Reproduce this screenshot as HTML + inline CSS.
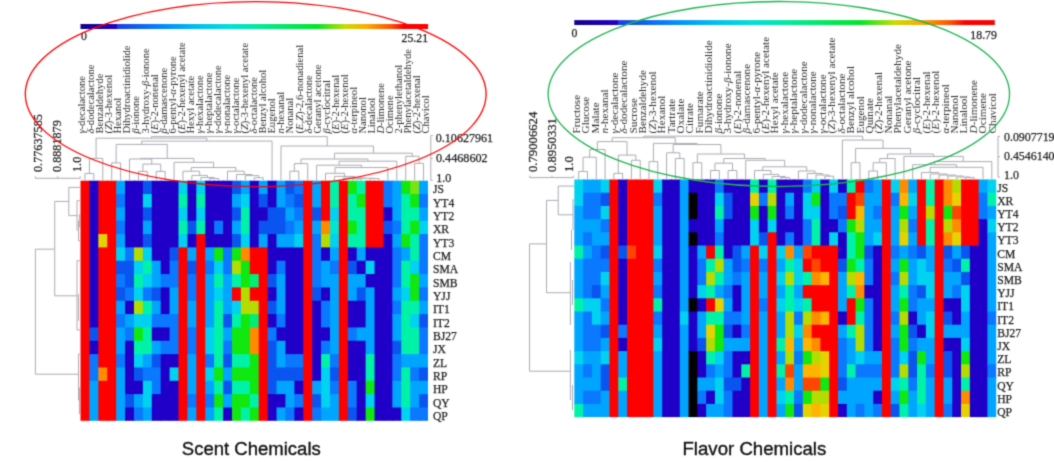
<!DOCTYPE html>
<html><head><meta charset="utf-8"><title>Scent and Flavor Chemicals heatmaps</title>
<style>html,body{margin:0;padding:0;background:#fff;width:1054px;height:462px;overflow:hidden}
svg{display:block;font-family:"Liberation Serif",serif}
#w{width:1054px;height:462px}</style></head>
<body><div id="w">
<svg width="1054" height="462" viewBox="0 0 1054 462">
<defs><filter id="bl" x="0" y="0" width="1" height="1" filterUnits="objectBoundingBox" color-interpolation-filters="sRGB"><feConvolveMatrix order="3" kernelMatrix="0.02768 0.11101 0.02768 0.11101 0.44521 0.11101 0.02768 0.11101 0.02768" preserveAlpha="true" edgeMode="duplicate"/></filter></defs>
<g filter="url(#bl)">
<rect width="1054" height="462" fill="#ffffff"/>
<defs><linearGradient id="cb" x1="0" x2="1" y1="0" y2="0"><stop offset="0" stop-color="#14008c"/><stop offset="0.104" stop-color="#2200c8"/><stop offset="0.1045" stop-color="#1e3ce6"/><stop offset="0.237" stop-color="#008cff"/><stop offset="0.332" stop-color="#00bef0"/><stop offset="0.429" stop-color="#00e1d7"/><stop offset="0.502" stop-color="#00eba0"/><stop offset="0.68" stop-color="#00e628"/><stop offset="0.761" stop-color="#c8dc00"/><stop offset="0.824" stop-color="#ffaa00"/><stop offset="0.895" stop-color="#ff5000"/><stop offset="0.929" stop-color="#ff0000"/><stop offset="1" stop-color="#ff0000"/></linearGradient></defs>
<rect x="80.5" y="24" width="347.6" height="5" fill="url(#cb)"/>
<rect x="574.3" y="20.1" width="420.5" height="4.9" fill="url(#cb)"/>
<g font-family="Liberation Serif, serif" fill="#222222" stroke="#222222" stroke-width="0.25">
<text x="81" y="40.4" font-size="11.8">0</text>
<text x="428.1" y="41.6" font-size="11.8" text-anchor="end">25.21</text>
<text x="571.5" y="36.6" font-size="11.8">0</text>
<text x="996.9" y="38.7" font-size="11.8" text-anchor="end">18.79</text>
<text transform="translate(85.1 133.6) rotate(-90) scale(1 0.93)" font-size="10.6" stroke="none" fill="#2e2e2e"><tspan font-style="italic">γ</tspan>-decalactone</text>
<text transform="translate(94.16 133.6) rotate(-90) scale(1 0.93)" font-size="10.6" stroke="none" fill="#2e2e2e"><tspan font-style="italic">δ</tspan>-dodecalactone</text>
<text transform="translate(103.22 133.6) rotate(-90) scale(1 0.93)" font-size="10.6" stroke="none" fill="#2e2e2e">Benzaldehyde</text>
<text transform="translate(112.28 133.6) rotate(-90) scale(1 0.93)" font-size="10.6" stroke="none" fill="#2e2e2e">(<tspan font-style="italic">Z</tspan>)-3-hexenol</text>
<text transform="translate(121.34 133.6) rotate(-90) scale(1 0.93)" font-size="10.6" stroke="none" fill="#2e2e2e">Hexanol</text>
<text transform="translate(130.4 133.6) rotate(-90) scale(1 0.93)" font-size="10.6" stroke="none" fill="#2e2e2e">Dihydroactinidiolide</text>
<text transform="translate(139.46 133.6) rotate(-90) scale(1 0.93)" font-size="10.6" stroke="none" fill="#2e2e2e"><tspan font-style="italic">β</tspan>-ionone</text>
<text transform="translate(148.52 133.6) rotate(-90) scale(1 0.93)" font-size="10.6" stroke="none" fill="#2e2e2e">3-hydroxy-<tspan font-style="italic">β</tspan>-ionone</text>
<text transform="translate(157.58 133.6) rotate(-90) scale(1 0.93)" font-size="10.6" stroke="none" fill="#2e2e2e">(<tspan font-style="italic">E</tspan>)-2-nonenal</text>
<text transform="translate(166.64 133.6) rotate(-90) scale(1 0.93)" font-size="10.6" stroke="none" fill="#2e2e2e"><tspan font-style="italic">β</tspan>-damascenone</text>
<text transform="translate(175.7 133.6) rotate(-90) scale(1 0.93)" font-size="10.6" stroke="none" fill="#2e2e2e">6-pentyl-<tspan font-style="italic">α</tspan>-pyrone</text>
<text transform="translate(184.76 133.6) rotate(-90) scale(1 0.93)" font-size="10.6" stroke="none" fill="#2e2e2e">(<tspan font-style="italic">E</tspan>)-2-hexenyl acetate</text>
<text transform="translate(193.82 133.6) rotate(-90) scale(1 0.93)" font-size="10.6" stroke="none" fill="#2e2e2e">Hexyl acetate</text>
<text transform="translate(202.88 133.6) rotate(-90) scale(1 0.93)" font-size="10.6" stroke="none" fill="#2e2e2e"><tspan font-style="italic">γ</tspan>-hexalactone</text>
<text transform="translate(211.94 133.6) rotate(-90) scale(1 0.93)" font-size="10.6" stroke="none" fill="#2e2e2e"><tspan font-style="italic">γ</tspan>-heptalactone</text>
<text transform="translate(221 133.6) rotate(-90) scale(1 0.93)" font-size="10.6" stroke="none" fill="#2e2e2e"><tspan font-style="italic">γ</tspan>-dodecalactone</text>
<text transform="translate(230.06 133.6) rotate(-90) scale(1 0.93)" font-size="10.6" stroke="none" fill="#2e2e2e"><tspan font-style="italic">γ</tspan>-nonalactone</text>
<text transform="translate(239.12 133.6) rotate(-90) scale(1 0.93)" font-size="10.6" stroke="none" fill="#2e2e2e"><tspan font-style="italic">γ</tspan>-octalactone</text>
<text transform="translate(248.18 133.6) rotate(-90) scale(1 0.93)" font-size="10.6" stroke="none" fill="#2e2e2e">(<tspan font-style="italic">Z</tspan>)-3-hexenyl acetate</text>
<text transform="translate(257.24 133.6) rotate(-90) scale(1 0.93)" font-size="10.6" stroke="none" fill="#2e2e2e"><tspan font-style="italic">δ</tspan>-octalactone</text>
<text transform="translate(266.3 133.6) rotate(-90) scale(1 0.93)" font-size="10.6" stroke="none" fill="#2e2e2e">Benzyl alcohol</text>
<text transform="translate(275.36 133.6) rotate(-90) scale(1 0.93)" font-size="10.6" stroke="none" fill="#2e2e2e">Eugenol</text>
<text transform="translate(284.42 133.6) rotate(-90) scale(1 0.93)" font-size="10.6" stroke="none" fill="#2e2e2e"><tspan font-style="italic">n</tspan>-hexanal</text>
<text transform="translate(293.48 133.6) rotate(-90) scale(1 0.93)" font-size="10.6" stroke="none" fill="#2e2e2e">Nonanal</text>
<text transform="translate(302.54 133.6) rotate(-90) scale(1 0.93)" font-size="10.6" stroke="none" fill="#2e2e2e">(<tspan font-style="italic">E,Z</tspan>)-2,6-nonadienal</text>
<text transform="translate(311.6 133.6) rotate(-90) scale(1 0.93)" font-size="10.6" stroke="none" fill="#2e2e2e"><tspan font-style="italic">δ</tspan>-decalactone</text>
<text transform="translate(320.66 133.6) rotate(-90) scale(1 0.93)" font-size="10.6" stroke="none" fill="#2e2e2e">Geranyl acetone</text>
<text transform="translate(329.72 133.6) rotate(-90) scale(1 0.93)" font-size="10.6" stroke="none" fill="#2e2e2e"><tspan font-style="italic">β</tspan>-cyclocitral</text>
<text transform="translate(338.78 133.6) rotate(-90) scale(1 0.93)" font-size="10.6" stroke="none" fill="#2e2e2e">(<tspan font-style="italic">E</tspan>)-2-hexenal</text>
<text transform="translate(347.84 133.6) rotate(-90) scale(1 0.93)" font-size="10.6" stroke="none" fill="#2e2e2e">(<tspan font-style="italic">E</tspan>)-2-hexenol</text>
<text transform="translate(356.9 133.6) rotate(-90) scale(1 0.93)" font-size="10.6" stroke="none" fill="#2e2e2e"><tspan font-style="italic">α</tspan>-terpineol</text>
<text transform="translate(365.96 133.6) rotate(-90) scale(1 0.93)" font-size="10.6" stroke="none" fill="#2e2e2e">Nanonol</text>
<text transform="translate(375.02 133.6) rotate(-90) scale(1 0.93)" font-size="10.6" stroke="none" fill="#2e2e2e">Linalool</text>
<text transform="translate(384.08 133.6) rotate(-90) scale(1 0.93)" font-size="10.6" stroke="none" fill="#2e2e2e"><tspan font-style="italic">D</tspan>-limonene</text>
<text transform="translate(393.14 133.6) rotate(-90) scale(1 0.93)" font-size="10.6" stroke="none" fill="#2e2e2e">Ocimene</text>
<text transform="translate(402.2 133.6) rotate(-90) scale(1 0.93)" font-size="10.6" stroke="none" fill="#2e2e2e">2-phenylethanol</text>
<text transform="translate(411.26 133.6) rotate(-90) scale(1 0.93)" font-size="10.6" stroke="none" fill="#2e2e2e">Phenylacetaldehyde</text>
<text transform="translate(420.32 133.6) rotate(-90) scale(1 0.93)" font-size="10.6" stroke="none" fill="#2e2e2e">(<tspan font-style="italic">Z</tspan>)-2-hexenal</text>
<text transform="translate(429.38 133.6) rotate(-90) scale(1 0.93)" font-size="10.6" stroke="none" fill="#2e2e2e">Chavicol</text>
<text transform="translate(580 133.4) rotate(-90) scale(1 0.97)" font-size="11.2" stroke="none" fill="#2e2e2e">Fructose</text>
<text transform="translate(589.45 133.4) rotate(-90) scale(1 0.97)" font-size="11.2" stroke="none" fill="#2e2e2e">Glucose</text>
<text transform="translate(598.9 133.4) rotate(-90) scale(1 0.97)" font-size="11.2" stroke="none" fill="#2e2e2e">Malate</text>
<text transform="translate(608.35 133.4) rotate(-90) scale(1 0.97)" font-size="11.2" stroke="none" fill="#2e2e2e"><tspan font-style="italic">n</tspan>-hexanal</text>
<text transform="translate(617.8 133.4) rotate(-90) scale(1 0.97)" font-size="11.2" stroke="none" fill="#2e2e2e"><tspan font-style="italic">γ</tspan>-decalactone</text>
<text transform="translate(627.25 133.4) rotate(-90) scale(1 0.97)" font-size="11.2" stroke="none" fill="#2e2e2e"><tspan font-style="italic">δ</tspan>-dodecalactone</text>
<text transform="translate(636.7 133.4) rotate(-90) scale(1 0.97)" font-size="11.2" stroke="none" fill="#2e2e2e">Sucrose</text>
<text transform="translate(646.15 133.4) rotate(-90) scale(1 0.97)" font-size="11.2" stroke="none" fill="#2e2e2e">Benzaldehyde</text>
<text transform="translate(655.6 133.4) rotate(-90) scale(1 0.97)" font-size="11.2" stroke="none" fill="#2e2e2e">(<tspan font-style="italic">Z</tspan>)-3-hexenol</text>
<text transform="translate(665.05 133.4) rotate(-90) scale(1 0.97)" font-size="11.2" stroke="none" fill="#2e2e2e">Hexanol</text>
<text transform="translate(674.5 133.4) rotate(-90) scale(1 0.97)" font-size="11.2" stroke="none" fill="#2e2e2e">Tartrate</text>
<text transform="translate(683.95 133.4) rotate(-90) scale(1 0.97)" font-size="11.2" stroke="none" fill="#2e2e2e">Oxalate</text>
<text transform="translate(693.4 133.4) rotate(-90) scale(1 0.97)" font-size="11.2" stroke="none" fill="#2e2e2e">Citrate</text>
<text transform="translate(702.85 133.4) rotate(-90) scale(1 0.97)" font-size="11.2" stroke="none" fill="#2e2e2e">Fumarate</text>
<text transform="translate(712.3 133.4) rotate(-90) scale(1 0.97)" font-size="11.2" stroke="none" fill="#2e2e2e">Dihydroactinidiolide</text>
<text transform="translate(721.75 133.4) rotate(-90) scale(1 0.97)" font-size="11.2" stroke="none" fill="#2e2e2e"><tspan font-style="italic">β</tspan>-ionone</text>
<text transform="translate(731.2 133.4) rotate(-90) scale(1 0.97)" font-size="11.2" stroke="none" fill="#2e2e2e">3-hydroxy-<tspan font-style="italic">β</tspan>-ionone</text>
<text transform="translate(740.65 133.4) rotate(-90) scale(1 0.97)" font-size="11.2" stroke="none" fill="#2e2e2e">(<tspan font-style="italic">E</tspan>)-2-nonenal</text>
<text transform="translate(750.1 133.4) rotate(-90) scale(1 0.97)" font-size="11.2" stroke="none" fill="#2e2e2e"><tspan font-style="italic">β</tspan>-damascenone</text>
<text transform="translate(759.55 133.4) rotate(-90) scale(1 0.97)" font-size="11.2" stroke="none" fill="#2e2e2e">6-pentyl-<tspan font-style="italic">α</tspan>-pyrone</text>
<text transform="translate(769 133.4) rotate(-90) scale(1 0.97)" font-size="11.2" stroke="none" fill="#2e2e2e">(<tspan font-style="italic">E</tspan>)-2-hexenyl acetate</text>
<text transform="translate(778.45 133.4) rotate(-90) scale(1 0.97)" font-size="11.2" stroke="none" fill="#2e2e2e">Hexyl acetate</text>
<text transform="translate(787.9 133.4) rotate(-90) scale(1 0.97)" font-size="11.2" stroke="none" fill="#2e2e2e"><tspan font-style="italic">γ</tspan>-hexalactone</text>
<text transform="translate(797.35 133.4) rotate(-90) scale(1 0.97)" font-size="11.2" stroke="none" fill="#2e2e2e"><tspan font-style="italic">γ</tspan>-heptalactone</text>
<text transform="translate(806.8 133.4) rotate(-90) scale(1 0.97)" font-size="11.2" stroke="none" fill="#2e2e2e"><tspan font-style="italic">γ</tspan>-dodecalactone</text>
<text transform="translate(816.25 133.4) rotate(-90) scale(1 0.97)" font-size="11.2" stroke="none" fill="#2e2e2e"><tspan font-style="italic">γ</tspan>-nonalactone</text>
<text transform="translate(825.7 133.4) rotate(-90) scale(1 0.97)" font-size="11.2" stroke="none" fill="#2e2e2e"><tspan font-style="italic">γ</tspan>-octalactone</text>
<text transform="translate(835.15 133.4) rotate(-90) scale(1 0.97)" font-size="11.2" stroke="none" fill="#2e2e2e">(<tspan font-style="italic">Z</tspan>)-3-hexenyl acetate</text>
<text transform="translate(844.6 133.4) rotate(-90) scale(1 0.97)" font-size="11.2" stroke="none" fill="#2e2e2e"><tspan font-style="italic">δ</tspan>-octalactone</text>
<text transform="translate(854.05 133.4) rotate(-90) scale(1 0.97)" font-size="11.2" stroke="none" fill="#2e2e2e">Benzyl alcohol</text>
<text transform="translate(863.5 133.4) rotate(-90) scale(1 0.97)" font-size="11.2" stroke="none" fill="#2e2e2e">Eugenol</text>
<text transform="translate(872.95 133.4) rotate(-90) scale(1 0.97)" font-size="11.2" stroke="none" fill="#2e2e2e">Quinate</text>
<text transform="translate(882.4 133.4) rotate(-90) scale(1 0.97)" font-size="11.2" stroke="none" fill="#2e2e2e">(<tspan font-style="italic">Z</tspan>)-2-hexenal</text>
<text transform="translate(891.85 133.4) rotate(-90) scale(1 0.97)" font-size="11.2" stroke="none" fill="#2e2e2e">Nonanal</text>
<text transform="translate(901.3 133.4) rotate(-90) scale(1 0.97)" font-size="11.2" stroke="none" fill="#2e2e2e">Phenylacetaldehyde</text>
<text transform="translate(910.75 133.4) rotate(-90) scale(1 0.97)" font-size="11.2" stroke="none" fill="#2e2e2e">Geranyl acetone</text>
<text transform="translate(920.2 133.4) rotate(-90) scale(1 0.97)" font-size="11.2" stroke="none" fill="#2e2e2e"><tspan font-style="italic">β</tspan>-cyclocitral</text>
<text transform="translate(929.65 133.4) rotate(-90) scale(1 0.97)" font-size="11.2" stroke="none" fill="#2e2e2e">(<tspan font-style="italic">E</tspan>)-2-hexenal</text>
<text transform="translate(939.1 133.4) rotate(-90) scale(1 0.97)" font-size="11.2" stroke="none" fill="#2e2e2e">(<tspan font-style="italic">E</tspan>)-2-hexenol</text>
<text transform="translate(948.55 133.4) rotate(-90) scale(1 0.97)" font-size="11.2" stroke="none" fill="#2e2e2e"><tspan font-style="italic">α</tspan>-terpineol</text>
<text transform="translate(958 133.4) rotate(-90) scale(1 0.97)" font-size="11.2" stroke="none" fill="#2e2e2e">Nanonol</text>
<text transform="translate(967.45 133.4) rotate(-90) scale(1 0.97)" font-size="11.2" stroke="none" fill="#2e2e2e">Linalool</text>
<text transform="translate(976.9 133.4) rotate(-90) scale(1 0.97)" font-size="11.2" stroke="none" fill="#2e2e2e"><tspan font-style="italic">D</tspan>-limonene</text>
<text transform="translate(986.35 133.4) rotate(-90) scale(1 0.97)" font-size="11.2" stroke="none" fill="#2e2e2e">Ocimene</text>
<text transform="translate(995.8 133.4) rotate(-90) scale(1 0.97)" font-size="11.2" stroke="none" fill="#2e2e2e">Chavicol</text>
<text x="433" y="193.17" font-size="11.6">JS</text>
<text x="433" y="206.51" font-size="11.6">YT4</text>
<text x="433" y="219.85" font-size="11.6">YT2</text>
<text x="433" y="233.19" font-size="11.6">XR</text>
<text x="433" y="246.53" font-size="11.6">YT3</text>
<text x="433" y="259.86" font-size="11.6">CM</text>
<text x="433" y="273.2" font-size="11.6">SMA</text>
<text x="433" y="286.54" font-size="11.6">SMB</text>
<text x="433" y="299.88" font-size="11.6">YJJ</text>
<text x="433" y="313.22" font-size="11.6">IT1</text>
<text x="433" y="326.56" font-size="11.6">IT2</text>
<text x="433" y="339.9" font-size="11.6">BJ27</text>
<text x="433" y="353.24" font-size="11.6">JX</text>
<text x="433" y="366.57" font-size="11.6">ZL</text>
<text x="433" y="379.91" font-size="11.6">RP</text>
<text x="433" y="393.25" font-size="11.6">HP</text>
<text x="433" y="406.59" font-size="11.6">QY</text>
<text x="433" y="419.93" font-size="11.6">QP</text>
<text x="997.2" y="191.5" font-size="11.6">JS</text>
<text x="997.2" y="204.7" font-size="11.6">XR</text>
<text x="997.2" y="217.9" font-size="11.6">YT4</text>
<text x="997.2" y="231.1" font-size="11.6">YT2</text>
<text x="997.2" y="244.3" font-size="11.6">YT3</text>
<text x="997.2" y="257.5" font-size="11.6">CM</text>
<text x="997.2" y="270.7" font-size="11.6">SMA</text>
<text x="997.2" y="283.9" font-size="11.6">SMB</text>
<text x="997.2" y="297.1" font-size="11.6">YJJ</text>
<text x="997.2" y="310.3" font-size="11.6">IT1</text>
<text x="997.2" y="323.5" font-size="11.6">IT2</text>
<text x="997.2" y="336.7" font-size="11.6">BJ27</text>
<text x="997.2" y="349.9" font-size="11.6">JX</text>
<text x="997.2" y="363.1" font-size="11.6">ZL</text>
<text x="997.2" y="376.3" font-size="11.6">RP</text>
<text x="997.2" y="389.5" font-size="11.6">QY</text>
<text x="997.2" y="402.7" font-size="11.6">HP</text>
<text x="997.2" y="415.9" font-size="11.6">QP</text>
<text x="435.8" y="141.6" font-size="12.05">0.10627961</text>
<text x="435.9" y="161.5" font-size="12.2">0.4468602</text>
<text x="436.2" y="181.6" font-size="12.1">1.0</text>
<text x="1004" y="141.1" font-size="11.9">0.0907719</text>
<text x="1004" y="159.8" font-size="11.9">0.4546140</text>
<text x="1004" y="178.5" font-size="11.9">1.0</text>
<text transform="translate(41.6 172) rotate(-90)" font-size="12.2">0.77637585</text>
<text transform="translate(61.2 172) rotate(-90)" font-size="12.2">0.8881879</text>
<text transform="translate(81 172) rotate(-90)" font-size="12.2">1.0</text>
<text transform="translate(537 172) rotate(-90)" font-size="12.7">0.79006624</text>
<text transform="translate(556.2 172) rotate(-90)" font-size="12.7">0.8950331</text>
<text transform="translate(573.4 172) rotate(-90)" font-size="12.7">1.0</text>
</g>
<rect x="80.5" y="180.7" width="9.91" height="240.1" fill="#ff0000"/>
<rect x="89.41" y="180.7" width="9.91" height="147.73" fill="#2000c8"/>
<rect x="89.41" y="327.43" width="9.91" height="14.34" fill="#0a55f0"/>
<rect x="89.41" y="340.77" width="9.91" height="14.34" fill="#2000c8"/>
<rect x="89.41" y="354.11" width="9.91" height="27.68" fill="#0a78ff"/>
<rect x="89.41" y="380.78" width="9.91" height="40.02" fill="#00a5ff"/>
<rect x="98.32" y="180.7" width="9.91" height="54.36" fill="#ff0000"/>
<rect x="98.32" y="234.06" width="9.91" height="14.34" fill="#e6d200"/>
<rect x="98.32" y="247.39" width="9.91" height="121.05" fill="#ff0000"/>
<rect x="98.32" y="367.44" width="9.91" height="14.34" fill="#ff8c00"/>
<rect x="98.32" y="380.78" width="9.91" height="40.02" fill="#ff0000"/>
<rect x="107.23" y="180.7" width="9.91" height="240.1" fill="#ff0000"/>
<rect x="116.14" y="180.7" width="9.91" height="14.34" fill="#00a5ff"/>
<rect x="116.14" y="194.04" width="9.91" height="14.34" fill="#0a78ff"/>
<rect x="116.14" y="207.38" width="9.91" height="14.34" fill="#00a5ff"/>
<rect x="116.14" y="220.72" width="9.91" height="14.34" fill="#0a78ff"/>
<rect x="116.14" y="234.06" width="9.91" height="14.34" fill="#00a5ff"/>
<rect x="116.14" y="247.39" width="9.91" height="14.34" fill="#00d2f0"/>
<rect x="116.14" y="260.73" width="9.91" height="14.34" fill="#0a55f0"/>
<rect x="116.14" y="274.07" width="9.91" height="14.34" fill="#0a78ff"/>
<rect x="116.14" y="287.41" width="9.91" height="14.34" fill="#0a55f0"/>
<rect x="116.14" y="300.75" width="9.91" height="14.34" fill="#00a5ff"/>
<rect x="116.14" y="314.09" width="9.91" height="14.34" fill="#0a78ff"/>
<rect x="116.14" y="327.43" width="9.91" height="27.68" fill="#00a5ff"/>
<rect x="116.14" y="354.11" width="9.91" height="14.34" fill="#0a78ff"/>
<rect x="116.14" y="367.44" width="9.91" height="53.36" fill="#00a5ff"/>
<rect x="125.05" y="180.7" width="9.91" height="67.69" fill="#2000c8"/>
<rect x="125.05" y="247.39" width="9.91" height="14.34" fill="#0a78ff"/>
<rect x="125.05" y="260.73" width="9.91" height="27.68" fill="#0a55f0"/>
<rect x="125.05" y="287.41" width="9.91" height="14.34" fill="#0a78ff"/>
<rect x="125.05" y="300.75" width="9.91" height="14.34" fill="#2000c8"/>
<rect x="125.05" y="314.09" width="9.91" height="14.34" fill="#00a5ff"/>
<rect x="125.05" y="327.43" width="9.91" height="14.34" fill="#0a78ff"/>
<rect x="125.05" y="340.77" width="9.91" height="54.36" fill="#2000c8"/>
<rect x="125.05" y="394.12" width="9.91" height="14.34" fill="#0a55f0"/>
<rect x="125.05" y="407.46" width="9.91" height="13.34" fill="#2000c8"/>
<rect x="133.96" y="180.7" width="9.91" height="67.69" fill="#2000c8"/>
<rect x="133.96" y="247.39" width="9.91" height="14.34" fill="#b4dc00"/>
<rect x="133.96" y="260.73" width="9.91" height="14.34" fill="#00d2f0"/>
<rect x="133.96" y="274.07" width="9.91" height="14.34" fill="#00f2a8"/>
<rect x="133.96" y="287.41" width="9.91" height="14.34" fill="#00d2f0"/>
<rect x="133.96" y="300.75" width="9.91" height="14.34" fill="#b4dc00"/>
<rect x="133.96" y="314.09" width="9.91" height="14.34" fill="#00d2f0"/>
<rect x="133.96" y="327.43" width="9.91" height="14.34" fill="#10e810"/>
<rect x="133.96" y="340.77" width="9.91" height="14.34" fill="#00f2a8"/>
<rect x="133.96" y="354.11" width="9.91" height="14.34" fill="#00d2f0"/>
<rect x="133.96" y="367.44" width="9.91" height="14.34" fill="#0a55f0"/>
<rect x="133.96" y="380.78" width="9.91" height="14.34" fill="#2000c8"/>
<rect x="133.96" y="394.12" width="9.91" height="14.34" fill="#00a5ff"/>
<rect x="133.96" y="407.46" width="9.91" height="13.34" fill="#0a78ff"/>
<rect x="142.87" y="180.7" width="9.91" height="14.34" fill="#0a55f0"/>
<rect x="142.87" y="194.04" width="9.91" height="14.34" fill="#00d2f0"/>
<rect x="142.87" y="207.38" width="9.91" height="14.34" fill="#0a55f0"/>
<rect x="142.87" y="220.72" width="9.91" height="14.34" fill="#00a5ff"/>
<rect x="142.87" y="234.06" width="9.91" height="14.34" fill="#0a55f0"/>
<rect x="142.87" y="247.39" width="9.91" height="14.34" fill="#00d2f0"/>
<rect x="142.87" y="260.73" width="9.91" height="14.34" fill="#00f2a8"/>
<rect x="142.87" y="274.07" width="9.91" height="14.34" fill="#00d2f0"/>
<rect x="142.87" y="287.41" width="9.91" height="14.34" fill="#0a78ff"/>
<rect x="142.87" y="300.75" width="9.91" height="14.34" fill="#00f2a8"/>
<rect x="142.87" y="314.09" width="9.91" height="14.34" fill="#00d2f0"/>
<rect x="142.87" y="327.43" width="9.91" height="27.68" fill="#00f2a8"/>
<rect x="142.87" y="354.11" width="9.91" height="14.34" fill="#00a5ff"/>
<rect x="142.87" y="367.44" width="9.91" height="14.34" fill="#0a78ff"/>
<rect x="142.87" y="380.78" width="9.91" height="27.68" fill="#00d2f0"/>
<rect x="142.87" y="407.46" width="9.91" height="13.34" fill="#00a5ff"/>
<rect x="151.78" y="180.7" width="9.91" height="81.03" fill="#2000c8"/>
<rect x="151.78" y="260.73" width="9.91" height="27.68" fill="#00a5ff"/>
<rect x="151.78" y="287.41" width="9.91" height="14.34" fill="#0a55f0"/>
<rect x="151.78" y="300.75" width="9.91" height="14.34" fill="#00a5ff"/>
<rect x="151.78" y="314.09" width="9.91" height="14.34" fill="#0a78ff"/>
<rect x="151.78" y="327.43" width="9.91" height="14.34" fill="#2000c8"/>
<rect x="151.78" y="340.77" width="9.91" height="14.34" fill="#00a5ff"/>
<rect x="151.78" y="354.11" width="9.91" height="14.34" fill="#0a55f0"/>
<rect x="151.78" y="367.44" width="9.91" height="27.68" fill="#0a78ff"/>
<rect x="151.78" y="394.12" width="9.91" height="26.68" fill="#2000c8"/>
<rect x="160.69" y="180.7" width="9.91" height="94.37" fill="#2000c8"/>
<rect x="160.69" y="274.07" width="9.91" height="14.34" fill="#0a78ff"/>
<rect x="160.69" y="287.41" width="9.91" height="27.68" fill="#2000c8"/>
<rect x="160.69" y="314.09" width="9.91" height="14.34" fill="#0a78ff"/>
<rect x="160.69" y="327.43" width="9.91" height="14.34" fill="#2000c8"/>
<rect x="160.69" y="340.77" width="9.91" height="14.34" fill="#0a78ff"/>
<rect x="160.69" y="354.11" width="9.91" height="66.69" fill="#2000c8"/>
<rect x="169.6" y="180.7" width="9.91" height="67.69" fill="#2000c8"/>
<rect x="169.6" y="247.39" width="9.91" height="14.34" fill="#0a55f0"/>
<rect x="169.6" y="260.73" width="9.91" height="27.68" fill="#0a78ff"/>
<rect x="169.6" y="287.41" width="9.91" height="27.68" fill="#00a5ff"/>
<rect x="169.6" y="314.09" width="9.91" height="41.02" fill="#0a78ff"/>
<rect x="169.6" y="354.11" width="9.91" height="14.34" fill="#2000c8"/>
<rect x="169.6" y="367.44" width="9.91" height="14.34" fill="#00d2f0"/>
<rect x="169.6" y="380.78" width="9.91" height="40.02" fill="#2000c8"/>
<rect x="178.51" y="180.7" width="9.91" height="14.34" fill="#00d2f0"/>
<rect x="178.51" y="194.04" width="9.91" height="14.34" fill="#00f2a8"/>
<rect x="178.51" y="207.38" width="9.91" height="14.34" fill="#00d2f0"/>
<rect x="178.51" y="220.72" width="9.91" height="14.34" fill="#00f2a8"/>
<rect x="178.51" y="234.06" width="9.91" height="14.34" fill="#00d2f0"/>
<rect x="178.51" y="247.39" width="9.91" height="173.41" fill="#ff0000"/>
<rect x="187.42" y="180.7" width="9.91" height="41.02" fill="#2000c8"/>
<rect x="187.42" y="220.72" width="9.91" height="14.34" fill="#0a55f0"/>
<rect x="187.42" y="234.06" width="9.91" height="14.34" fill="#2000c8"/>
<rect x="187.42" y="247.39" width="9.91" height="14.34" fill="#00a5ff"/>
<rect x="187.42" y="260.73" width="9.91" height="14.34" fill="#0a55f0"/>
<rect x="187.42" y="274.07" width="9.91" height="27.68" fill="#0a78ff"/>
<rect x="187.42" y="300.75" width="9.91" height="27.68" fill="#00a5ff"/>
<rect x="187.42" y="327.43" width="9.91" height="27.68" fill="#0a78ff"/>
<rect x="187.42" y="354.11" width="9.91" height="41.02" fill="#00a5ff"/>
<rect x="187.42" y="394.12" width="9.91" height="14.34" fill="#0a78ff"/>
<rect x="187.42" y="407.46" width="9.91" height="13.34" fill="#00a5ff"/>
<rect x="196.33" y="180.7" width="9.91" height="14.34" fill="#00d2f0"/>
<rect x="196.33" y="194.04" width="9.91" height="14.34" fill="#00f2a8"/>
<rect x="196.33" y="207.38" width="9.91" height="14.34" fill="#00d2f0"/>
<rect x="196.33" y="220.72" width="9.91" height="14.34" fill="#00f2a8"/>
<rect x="196.33" y="234.06" width="9.91" height="186.74" fill="#ff0000"/>
<rect x="205.24" y="180.7" width="9.91" height="67.69" fill="#2000c8"/>
<rect x="205.24" y="247.39" width="9.91" height="14.34" fill="#00a5ff"/>
<rect x="205.24" y="260.73" width="9.91" height="14.34" fill="#0a78ff"/>
<rect x="205.24" y="274.07" width="9.91" height="54.36" fill="#00a5ff"/>
<rect x="205.24" y="327.43" width="9.91" height="27.68" fill="#00d2f0"/>
<rect x="205.24" y="354.11" width="9.91" height="14.34" fill="#0a78ff"/>
<rect x="205.24" y="367.44" width="9.91" height="14.34" fill="#00d2f0"/>
<rect x="205.24" y="380.78" width="9.91" height="14.34" fill="#00a5ff"/>
<rect x="205.24" y="394.12" width="9.91" height="14.34" fill="#0a78ff"/>
<rect x="205.24" y="407.46" width="9.91" height="13.34" fill="#00a5ff"/>
<rect x="214.15" y="180.7" width="9.91" height="41.02" fill="#2000c8"/>
<rect x="214.15" y="220.72" width="9.91" height="14.34" fill="#0a78ff"/>
<rect x="214.15" y="234.06" width="9.91" height="14.34" fill="#2000c8"/>
<rect x="214.15" y="247.39" width="9.91" height="14.34" fill="#10e810"/>
<rect x="214.15" y="260.73" width="9.91" height="14.34" fill="#00d2f0"/>
<rect x="214.15" y="274.07" width="9.91" height="14.34" fill="#00f2a8"/>
<rect x="214.15" y="287.41" width="9.91" height="14.34" fill="#00d2f0"/>
<rect x="214.15" y="300.75" width="9.91" height="67.69" fill="#00f2a8"/>
<rect x="214.15" y="367.44" width="9.91" height="14.34" fill="#10e810"/>
<rect x="214.15" y="380.78" width="9.91" height="14.34" fill="#00f2a8"/>
<rect x="214.15" y="394.12" width="9.91" height="14.34" fill="#10e810"/>
<rect x="214.15" y="407.46" width="9.91" height="13.34" fill="#00f2a8"/>
<rect x="223.06" y="180.7" width="9.91" height="67.69" fill="#2000c8"/>
<rect x="223.06" y="247.39" width="9.91" height="27.68" fill="#0a78ff"/>
<rect x="223.06" y="274.07" width="9.91" height="41.02" fill="#00a5ff"/>
<rect x="223.06" y="314.09" width="9.91" height="14.34" fill="#0a55f0"/>
<rect x="223.06" y="327.43" width="9.91" height="14.34" fill="#00a5ff"/>
<rect x="223.06" y="340.77" width="9.91" height="14.34" fill="#0a78ff"/>
<rect x="223.06" y="354.11" width="9.91" height="14.34" fill="#0a55f0"/>
<rect x="223.06" y="367.44" width="9.91" height="14.34" fill="#00a5ff"/>
<rect x="223.06" y="380.78" width="9.91" height="14.34" fill="#0a55f0"/>
<rect x="223.06" y="394.12" width="9.91" height="14.34" fill="#00a5ff"/>
<rect x="223.06" y="407.46" width="9.91" height="13.34" fill="#2000c8"/>
<rect x="231.97" y="180.7" width="9.91" height="14.34" fill="#0a55f0"/>
<rect x="231.97" y="194.04" width="9.91" height="14.34" fill="#00a5ff"/>
<rect x="231.97" y="207.38" width="9.91" height="14.34" fill="#0a55f0"/>
<rect x="231.97" y="220.72" width="9.91" height="14.34" fill="#00a5ff"/>
<rect x="231.97" y="234.06" width="9.91" height="14.34" fill="#0a55f0"/>
<rect x="231.97" y="247.39" width="9.91" height="14.34" fill="#10e810"/>
<rect x="231.97" y="260.73" width="9.91" height="14.34" fill="#b4dc00"/>
<rect x="231.97" y="274.07" width="9.91" height="14.34" fill="#00f2a8"/>
<rect x="231.97" y="287.41" width="9.91" height="14.34" fill="#ff0000"/>
<rect x="231.97" y="300.75" width="9.91" height="14.34" fill="#00d2f0"/>
<rect x="231.97" y="314.09" width="9.91" height="14.34" fill="#00f2a8"/>
<rect x="231.97" y="327.43" width="9.91" height="27.68" fill="#10e810"/>
<rect x="231.97" y="354.11" width="9.91" height="14.34" fill="#00f2a8"/>
<rect x="231.97" y="367.44" width="9.91" height="14.34" fill="#10e810"/>
<rect x="231.97" y="380.78" width="9.91" height="14.34" fill="#00f2a8"/>
<rect x="231.97" y="394.12" width="9.91" height="26.68" fill="#10e810"/>
<rect x="240.88" y="180.7" width="9.91" height="14.34" fill="#00a5ff"/>
<rect x="240.88" y="194.04" width="9.91" height="14.34" fill="#00d2f0"/>
<rect x="240.88" y="207.38" width="9.91" height="27.68" fill="#00f2a8"/>
<rect x="240.88" y="234.06" width="9.91" height="14.34" fill="#00d2f0"/>
<rect x="240.88" y="247.39" width="9.91" height="14.34" fill="#ff8c00"/>
<rect x="240.88" y="260.73" width="9.91" height="27.68" fill="#10e810"/>
<rect x="240.88" y="287.41" width="9.91" height="27.68" fill="#b4dc00"/>
<rect x="240.88" y="314.09" width="9.91" height="41.02" fill="#10e810"/>
<rect x="240.88" y="354.11" width="9.91" height="14.34" fill="#00f2a8"/>
<rect x="240.88" y="367.44" width="9.91" height="14.34" fill="#10e810"/>
<rect x="240.88" y="380.78" width="9.91" height="14.34" fill="#00f2a8"/>
<rect x="240.88" y="394.12" width="9.91" height="14.34" fill="#10e810"/>
<rect x="240.88" y="407.46" width="9.91" height="13.34" fill="#00f2a8"/>
<rect x="249.79" y="180.7" width="9.91" height="67.69" fill="#2000c8"/>
<rect x="249.79" y="247.39" width="9.91" height="27.68" fill="#ff0000"/>
<rect x="249.79" y="274.07" width="9.91" height="14.34" fill="#00ee78"/>
<rect x="249.79" y="287.41" width="9.91" height="14.34" fill="#ff0000"/>
<rect x="249.79" y="300.75" width="9.91" height="14.34" fill="#b4dc00"/>
<rect x="249.79" y="314.09" width="9.91" height="14.34" fill="#00ee78"/>
<rect x="249.79" y="327.43" width="9.91" height="27.68" fill="#ff8c00"/>
<rect x="249.79" y="354.11" width="9.91" height="41.02" fill="#10e810"/>
<rect x="249.79" y="394.12" width="9.91" height="14.34" fill="#00f2a8"/>
<rect x="249.79" y="407.46" width="9.91" height="13.34" fill="#10e810"/>
<rect x="258.71" y="180.7" width="9.91" height="14.34" fill="#00a5ff"/>
<rect x="258.71" y="194.04" width="9.91" height="14.34" fill="#0a55f0"/>
<rect x="258.71" y="207.38" width="9.91" height="14.34" fill="#2000c8"/>
<rect x="258.71" y="220.72" width="9.91" height="14.34" fill="#0a55f0"/>
<rect x="258.71" y="234.06" width="9.91" height="14.34" fill="#00a5ff"/>
<rect x="258.71" y="247.39" width="9.91" height="173.41" fill="#ff0000"/>
<rect x="267.62" y="180.7" width="9.91" height="27.68" fill="#2000c8"/>
<rect x="267.62" y="207.38" width="9.91" height="27.68" fill="#0a55f0"/>
<rect x="267.62" y="234.06" width="9.91" height="41.02" fill="#2000c8"/>
<rect x="267.62" y="274.07" width="9.91" height="14.34" fill="#0a55f0"/>
<rect x="267.62" y="287.41" width="9.91" height="14.34" fill="#2000c8"/>
<rect x="267.62" y="300.75" width="9.91" height="14.34" fill="#0a55f0"/>
<rect x="267.62" y="314.09" width="9.91" height="14.34" fill="#2000c8"/>
<rect x="267.62" y="327.43" width="9.91" height="14.34" fill="#0a78ff"/>
<rect x="267.62" y="340.77" width="9.91" height="54.36" fill="#0a55f0"/>
<rect x="267.62" y="394.12" width="9.91" height="26.68" fill="#2000c8"/>
<rect x="276.53" y="180.7" width="9.91" height="27.68" fill="#00a5ff"/>
<rect x="276.53" y="207.38" width="9.91" height="27.68" fill="#0a55f0"/>
<rect x="276.53" y="234.06" width="9.91" height="14.34" fill="#00a5ff"/>
<rect x="276.53" y="247.39" width="9.91" height="14.34" fill="#2000c8"/>
<rect x="276.53" y="260.73" width="9.91" height="14.34" fill="#0a78ff"/>
<rect x="276.53" y="274.07" width="9.91" height="41.02" fill="#00a5ff"/>
<rect x="276.53" y="314.09" width="9.91" height="14.34" fill="#0a78ff"/>
<rect x="276.53" y="327.43" width="9.91" height="14.34" fill="#2000c8"/>
<rect x="276.53" y="340.77" width="9.91" height="27.68" fill="#00a5ff"/>
<rect x="276.53" y="367.44" width="9.91" height="14.34" fill="#0a55f0"/>
<rect x="276.53" y="380.78" width="9.91" height="14.34" fill="#00a5ff"/>
<rect x="276.53" y="394.12" width="9.91" height="14.34" fill="#2000c8"/>
<rect x="276.53" y="407.46" width="9.91" height="13.34" fill="#00a5ff"/>
<rect x="285.44" y="180.7" width="9.91" height="14.34" fill="#0a55f0"/>
<rect x="285.44" y="194.04" width="9.91" height="14.34" fill="#0a78ff"/>
<rect x="285.44" y="207.38" width="9.91" height="14.34" fill="#00a5ff"/>
<rect x="285.44" y="220.72" width="9.91" height="14.34" fill="#0a78ff"/>
<rect x="285.44" y="234.06" width="9.91" height="14.34" fill="#00a5ff"/>
<rect x="285.44" y="247.39" width="9.91" height="107.71" fill="#2000c8"/>
<rect x="285.44" y="354.11" width="9.91" height="14.34" fill="#0a78ff"/>
<rect x="285.44" y="367.44" width="9.91" height="14.34" fill="#0a55f0"/>
<rect x="285.44" y="380.78" width="9.91" height="27.68" fill="#00a5ff"/>
<rect x="285.44" y="407.46" width="9.91" height="13.34" fill="#0a78ff"/>
<rect x="294.35" y="180.7" width="9.91" height="14.34" fill="#0a78ff"/>
<rect x="294.35" y="194.04" width="9.91" height="14.34" fill="#0a55f0"/>
<rect x="294.35" y="207.38" width="9.91" height="14.34" fill="#0a78ff"/>
<rect x="294.35" y="220.72" width="9.91" height="14.34" fill="#00a5ff"/>
<rect x="294.35" y="234.06" width="9.91" height="14.34" fill="#00d2f0"/>
<rect x="294.35" y="247.39" width="9.91" height="107.71" fill="#2000c8"/>
<rect x="294.35" y="354.11" width="9.91" height="14.34" fill="#0a78ff"/>
<rect x="294.35" y="367.44" width="9.91" height="14.34" fill="#0a55f0"/>
<rect x="294.35" y="380.78" width="9.91" height="14.34" fill="#2000c8"/>
<rect x="294.35" y="394.12" width="9.91" height="14.34" fill="#0a78ff"/>
<rect x="294.35" y="407.46" width="9.91" height="13.34" fill="#2000c8"/>
<rect x="303.26" y="180.7" width="9.91" height="240.1" fill="#ff0000"/>
<rect x="312.17" y="180.7" width="9.91" height="27.68" fill="#00a5ff"/>
<rect x="312.17" y="207.38" width="9.91" height="14.34" fill="#0a55f0"/>
<rect x="312.17" y="220.72" width="9.91" height="14.34" fill="#00a5ff"/>
<rect x="312.17" y="234.06" width="9.91" height="54.36" fill="#0a78ff"/>
<rect x="312.17" y="287.41" width="9.91" height="14.34" fill="#0a55f0"/>
<rect x="312.17" y="300.75" width="9.91" height="81.03" fill="#2000c8"/>
<rect x="312.17" y="380.78" width="9.91" height="14.34" fill="#00a5ff"/>
<rect x="312.17" y="394.12" width="9.91" height="14.34" fill="#0a55f0"/>
<rect x="312.17" y="407.46" width="9.91" height="13.34" fill="#0a78ff"/>
<rect x="321.08" y="180.7" width="9.91" height="41.02" fill="#ff0000"/>
<rect x="321.08" y="220.72" width="9.91" height="14.34" fill="#ff8c00"/>
<rect x="321.08" y="234.06" width="9.91" height="14.34" fill="#b4dc00"/>
<rect x="321.08" y="247.39" width="9.91" height="14.34" fill="#2000c8"/>
<rect x="321.08" y="260.73" width="9.91" height="27.68" fill="#00a5ff"/>
<rect x="321.08" y="287.41" width="9.91" height="14.34" fill="#2000c8"/>
<rect x="321.08" y="300.75" width="9.91" height="27.68" fill="#0a78ff"/>
<rect x="321.08" y="327.43" width="9.91" height="14.34" fill="#2000c8"/>
<rect x="321.08" y="340.77" width="9.91" height="14.34" fill="#0a78ff"/>
<rect x="321.08" y="354.11" width="9.91" height="14.34" fill="#00f2a8"/>
<rect x="321.08" y="367.44" width="9.91" height="41.02" fill="#00d2f0"/>
<rect x="321.08" y="407.46" width="9.91" height="13.34" fill="#00a5ff"/>
<rect x="329.99" y="180.7" width="9.91" height="27.68" fill="#00f2a8"/>
<rect x="329.99" y="207.38" width="9.91" height="14.34" fill="#00d2f0"/>
<rect x="329.99" y="220.72" width="9.91" height="14.34" fill="#00e6d2"/>
<rect x="329.99" y="234.06" width="9.91" height="14.34" fill="#00d2f0"/>
<rect x="329.99" y="247.39" width="9.91" height="14.34" fill="#00a5ff"/>
<rect x="329.99" y="260.73" width="9.91" height="14.34" fill="#0a78ff"/>
<rect x="329.99" y="274.07" width="9.91" height="81.03" fill="#00a5ff"/>
<rect x="329.99" y="354.11" width="9.91" height="14.34" fill="#0a78ff"/>
<rect x="329.99" y="367.44" width="9.91" height="14.34" fill="#0a55f0"/>
<rect x="329.99" y="380.78" width="9.91" height="14.34" fill="#0a78ff"/>
<rect x="329.99" y="394.12" width="9.91" height="26.68" fill="#00a5ff"/>
<rect x="338.9" y="180.7" width="9.91" height="240.1" fill="#ff0000"/>
<rect x="347.81" y="180.7" width="9.91" height="14.34" fill="#10e810"/>
<rect x="347.81" y="194.04" width="9.91" height="27.68" fill="#00f2a8"/>
<rect x="347.81" y="220.72" width="9.91" height="14.34" fill="#10e810"/>
<rect x="347.81" y="234.06" width="9.91" height="14.34" fill="#00f2a8"/>
<rect x="347.81" y="247.39" width="9.91" height="14.34" fill="#2000c8"/>
<rect x="347.81" y="260.73" width="9.91" height="14.34" fill="#0a55f0"/>
<rect x="347.81" y="274.07" width="9.91" height="27.68" fill="#00a5ff"/>
<rect x="347.81" y="300.75" width="9.91" height="27.68" fill="#2000c8"/>
<rect x="347.81" y="327.43" width="9.91" height="14.34" fill="#0a78ff"/>
<rect x="347.81" y="340.77" width="9.91" height="41.02" fill="#2000c8"/>
<rect x="347.81" y="380.78" width="9.91" height="27.68" fill="#0a78ff"/>
<rect x="347.81" y="407.46" width="9.91" height="13.34" fill="#0a55f0"/>
<rect x="356.72" y="180.7" width="9.91" height="14.34" fill="#00f2a8"/>
<rect x="356.72" y="194.04" width="9.91" height="14.34" fill="#10e810"/>
<rect x="356.72" y="207.38" width="9.91" height="41.02" fill="#00f2a8"/>
<rect x="356.72" y="247.39" width="9.91" height="14.34" fill="#00a5ff"/>
<rect x="356.72" y="260.73" width="9.91" height="14.34" fill="#2000c8"/>
<rect x="356.72" y="274.07" width="9.91" height="14.34" fill="#00a5ff"/>
<rect x="356.72" y="287.41" width="9.91" height="14.34" fill="#0a55f0"/>
<rect x="356.72" y="300.75" width="9.91" height="27.68" fill="#2000c8"/>
<rect x="356.72" y="327.43" width="9.91" height="14.34" fill="#00a5ff"/>
<rect x="356.72" y="340.77" width="9.91" height="80.03" fill="#2000c8"/>
<rect x="365.63" y="180.7" width="9.91" height="67.69" fill="#ff0000"/>
<rect x="365.63" y="247.39" width="9.91" height="14.34" fill="#2000c8"/>
<rect x="365.63" y="260.73" width="9.91" height="14.34" fill="#00d2f0"/>
<rect x="365.63" y="274.07" width="9.91" height="14.34" fill="#2000c8"/>
<rect x="365.63" y="287.41" width="9.91" height="67.69" fill="#00a5ff"/>
<rect x="365.63" y="354.11" width="9.91" height="27.68" fill="#00f2a8"/>
<rect x="365.63" y="380.78" width="9.91" height="14.34" fill="#10e810"/>
<rect x="365.63" y="394.12" width="9.91" height="14.34" fill="#00d2f0"/>
<rect x="365.63" y="407.46" width="9.91" height="13.34" fill="#10e810"/>
<rect x="374.54" y="180.7" width="9.91" height="67.69" fill="#ff0000"/>
<rect x="374.54" y="247.39" width="9.91" height="173.41" fill="#2000c8"/>
<rect x="383.45" y="180.7" width="9.91" height="27.68" fill="#0a78ff"/>
<rect x="383.45" y="207.38" width="9.91" height="14.34" fill="#2000c8"/>
<rect x="383.45" y="220.72" width="9.91" height="14.34" fill="#0a55f0"/>
<rect x="383.45" y="234.06" width="9.91" height="186.74" fill="#2000c8"/>
<rect x="392.36" y="180.7" width="9.91" height="41.02" fill="#00a5ff"/>
<rect x="392.36" y="220.72" width="9.91" height="14.34" fill="#0a78ff"/>
<rect x="392.36" y="234.06" width="9.91" height="14.34" fill="#00a5ff"/>
<rect x="392.36" y="247.39" width="9.91" height="41.02" fill="#0a78ff"/>
<rect x="392.36" y="287.41" width="9.91" height="14.34" fill="#00a5ff"/>
<rect x="392.36" y="300.75" width="9.91" height="14.34" fill="#0a78ff"/>
<rect x="392.36" y="314.09" width="9.91" height="27.68" fill="#00a5ff"/>
<rect x="392.36" y="340.77" width="9.91" height="14.34" fill="#0a55f0"/>
<rect x="392.36" y="354.11" width="9.91" height="27.68" fill="#0a78ff"/>
<rect x="392.36" y="380.78" width="9.91" height="27.68" fill="#00a5ff"/>
<rect x="392.36" y="407.46" width="9.91" height="13.34" fill="#2000c8"/>
<rect x="401.27" y="180.7" width="9.91" height="14.34" fill="#10e810"/>
<rect x="401.27" y="194.04" width="9.91" height="41.02" fill="#00f2a8"/>
<rect x="401.27" y="234.06" width="9.91" height="14.34" fill="#10e810"/>
<rect x="401.27" y="247.39" width="9.91" height="14.34" fill="#00a5ff"/>
<rect x="401.27" y="260.73" width="9.91" height="27.68" fill="#00f2a8"/>
<rect x="401.27" y="287.41" width="9.91" height="14.34" fill="#00d2f0"/>
<rect x="401.27" y="300.75" width="9.91" height="54.36" fill="#00f2a8"/>
<rect x="401.27" y="354.11" width="9.91" height="14.34" fill="#00a5ff"/>
<rect x="401.27" y="367.44" width="9.91" height="41.02" fill="#00f2a8"/>
<rect x="401.27" y="407.46" width="9.91" height="13.34" fill="#00d2f0"/>
<rect x="410.18" y="180.7" width="9.91" height="14.34" fill="#78e414"/>
<rect x="410.18" y="194.04" width="9.91" height="14.34" fill="#10e810"/>
<rect x="410.18" y="207.38" width="9.91" height="14.34" fill="#00f2a8"/>
<rect x="410.18" y="220.72" width="9.91" height="14.34" fill="#10e810"/>
<rect x="410.18" y="234.06" width="9.91" height="27.68" fill="#00f2a8"/>
<rect x="410.18" y="260.73" width="9.91" height="14.34" fill="#00d2f0"/>
<rect x="410.18" y="274.07" width="9.91" height="27.68" fill="#10e810"/>
<rect x="410.18" y="300.75" width="9.91" height="14.34" fill="#00f2a8"/>
<rect x="410.18" y="314.09" width="9.91" height="14.34" fill="#00d2f0"/>
<rect x="410.18" y="327.43" width="9.91" height="27.68" fill="#00f2a8"/>
<rect x="410.18" y="354.11" width="9.91" height="14.34" fill="#00a5ff"/>
<rect x="410.18" y="367.44" width="9.91" height="14.34" fill="#0a78ff"/>
<rect x="410.18" y="380.78" width="9.91" height="27.68" fill="#00a5ff"/>
<rect x="410.18" y="407.46" width="9.91" height="13.34" fill="#0a78ff"/>
<rect x="419.09" y="180.7" width="8.91" height="14.34" fill="#00a5ff"/>
<rect x="419.09" y="194.04" width="8.91" height="14.34" fill="#0a78ff"/>
<rect x="419.09" y="207.38" width="8.91" height="14.34" fill="#00a5ff"/>
<rect x="419.09" y="220.72" width="8.91" height="14.34" fill="#00d2f0"/>
<rect x="419.09" y="234.06" width="8.91" height="41.02" fill="#0a78ff"/>
<rect x="419.09" y="274.07" width="8.91" height="14.34" fill="#00a5ff"/>
<rect x="419.09" y="287.41" width="8.91" height="14.34" fill="#0a78ff"/>
<rect x="419.09" y="300.75" width="8.91" height="14.34" fill="#00a5ff"/>
<rect x="419.09" y="314.09" width="8.91" height="14.34" fill="#0a55f0"/>
<rect x="419.09" y="327.43" width="8.91" height="27.68" fill="#0a78ff"/>
<rect x="419.09" y="354.11" width="8.91" height="14.34" fill="#00a5ff"/>
<rect x="419.09" y="367.44" width="8.91" height="14.34" fill="#0a55f0"/>
<rect x="419.09" y="380.78" width="8.91" height="14.34" fill="#00a5ff"/>
<rect x="419.09" y="394.12" width="8.91" height="14.34" fill="#0a55f0"/>
<rect x="419.09" y="407.46" width="8.91" height="13.34" fill="#0a78ff"/>
<rect x="574.3" y="179.5" width="9.79" height="27.4" fill="#00d2f0"/>
<rect x="574.3" y="205.9" width="9.79" height="40.6" fill="#00a5ff"/>
<rect x="574.3" y="245.5" width="9.79" height="14.2" fill="#00f2a8"/>
<rect x="574.3" y="258.7" width="9.79" height="40.6" fill="#00a5ff"/>
<rect x="574.3" y="298.3" width="9.79" height="14.2" fill="#00f2a8"/>
<rect x="574.3" y="311.5" width="9.79" height="40.6" fill="#00a5ff"/>
<rect x="574.3" y="351.1" width="9.79" height="14.2" fill="#00d2f0"/>
<rect x="574.3" y="364.3" width="9.79" height="40.6" fill="#00a5ff"/>
<rect x="574.3" y="403.9" width="9.79" height="13.2" fill="#00f2a8"/>
<rect x="583.09" y="179.5" width="9.79" height="14.2" fill="#00a5ff"/>
<rect x="583.09" y="192.7" width="9.79" height="27.4" fill="#0a78ff"/>
<rect x="583.09" y="219.1" width="9.79" height="14.2" fill="#00a5ff"/>
<rect x="583.09" y="232.3" width="9.79" height="14.2" fill="#0a78ff"/>
<rect x="583.09" y="245.5" width="9.79" height="14.2" fill="#00a5ff"/>
<rect x="583.09" y="258.7" width="9.79" height="40.6" fill="#0a78ff"/>
<rect x="583.09" y="298.3" width="9.79" height="14.2" fill="#00d2f0"/>
<rect x="583.09" y="311.5" width="9.79" height="40.6" fill="#0a78ff"/>
<rect x="583.09" y="351.1" width="9.79" height="14.2" fill="#00a5ff"/>
<rect x="583.09" y="364.3" width="9.79" height="14.2" fill="#0a78ff"/>
<rect x="583.09" y="377.5" width="9.79" height="14.2" fill="#00a5ff"/>
<rect x="583.09" y="390.7" width="9.79" height="14.2" fill="#0a78ff"/>
<rect x="583.09" y="403.9" width="9.79" height="13.2" fill="#00a5ff"/>
<rect x="591.88" y="179.5" width="9.79" height="14.2" fill="#00a5ff"/>
<rect x="591.88" y="192.7" width="9.79" height="27.4" fill="#0a78ff"/>
<rect x="591.88" y="219.1" width="9.79" height="27.4" fill="#00a5ff"/>
<rect x="591.88" y="245.5" width="9.79" height="40.6" fill="#0a78ff"/>
<rect x="591.88" y="285.1" width="9.79" height="14.2" fill="#0a55f0"/>
<rect x="591.88" y="298.3" width="9.79" height="27.4" fill="#00d2f0"/>
<rect x="591.88" y="324.7" width="9.79" height="27.4" fill="#0a78ff"/>
<rect x="591.88" y="351.1" width="9.79" height="40.6" fill="#00a5ff"/>
<rect x="591.88" y="390.7" width="9.79" height="14.2" fill="#0a78ff"/>
<rect x="591.88" y="403.9" width="9.79" height="13.2" fill="#00a5ff"/>
<rect x="600.67" y="179.5" width="9.79" height="14.2" fill="#00d2f0"/>
<rect x="600.67" y="192.7" width="9.79" height="14.2" fill="#0a55f0"/>
<rect x="600.67" y="205.9" width="9.79" height="14.2" fill="#00d2f0"/>
<rect x="600.67" y="219.1" width="9.79" height="14.2" fill="#0a78ff"/>
<rect x="600.67" y="232.3" width="9.79" height="14.2" fill="#00a5ff"/>
<rect x="600.67" y="245.5" width="9.79" height="14.2" fill="#0a55f0"/>
<rect x="600.67" y="258.7" width="9.79" height="14.2" fill="#0a78ff"/>
<rect x="600.67" y="271.9" width="9.79" height="14.2" fill="#00d2f0"/>
<rect x="600.67" y="285.1" width="9.79" height="14.2" fill="#00a5ff"/>
<rect x="600.67" y="298.3" width="9.79" height="14.2" fill="#0a78ff"/>
<rect x="600.67" y="311.5" width="9.79" height="14.2" fill="#00a5ff"/>
<rect x="600.67" y="324.7" width="9.79" height="14.2" fill="#0a55f0"/>
<rect x="600.67" y="337.9" width="9.79" height="14.2" fill="#00a5ff"/>
<rect x="600.67" y="351.1" width="9.79" height="14.2" fill="#00d2f0"/>
<rect x="600.67" y="364.3" width="9.79" height="27.4" fill="#0a55f0"/>
<rect x="600.67" y="390.7" width="9.79" height="26.4" fill="#00a5ff"/>
<rect x="609.46" y="179.5" width="9.79" height="237.6" fill="#ff0000"/>
<rect x="618.25" y="179.5" width="9.79" height="67" fill="#2000c8"/>
<rect x="618.25" y="245.5" width="9.79" height="14.2" fill="#0a55f0"/>
<rect x="618.25" y="258.7" width="9.79" height="67" fill="#2000c8"/>
<rect x="618.25" y="324.7" width="9.79" height="14.2" fill="#0a78ff"/>
<rect x="618.25" y="337.9" width="9.79" height="14.2" fill="#2000c8"/>
<rect x="618.25" y="351.1" width="9.79" height="27.4" fill="#00a5ff"/>
<rect x="618.25" y="377.5" width="9.79" height="14.2" fill="#00f2a8"/>
<rect x="618.25" y="390.7" width="9.79" height="26.4" fill="#00a5ff"/>
<rect x="627.04" y="179.5" width="9.79" height="67" fill="#ff0000"/>
<rect x="627.04" y="245.5" width="9.79" height="14.2" fill="#ff4600"/>
<rect x="627.04" y="258.7" width="9.79" height="158.4" fill="#ff0000"/>
<rect x="635.83" y="179.5" width="9.79" height="237.6" fill="#ff0000"/>
<rect x="644.62" y="179.5" width="9.79" height="237.6" fill="#ff0000"/>
<rect x="653.41" y="179.5" width="9.79" height="14.2" fill="#00d2f0"/>
<rect x="653.41" y="192.7" width="9.79" height="14.2" fill="#0a78ff"/>
<rect x="653.41" y="205.9" width="9.79" height="40.6" fill="#00a5ff"/>
<rect x="653.41" y="245.5" width="9.79" height="14.2" fill="#00d2f0"/>
<rect x="653.41" y="258.7" width="9.79" height="14.2" fill="#0a78ff"/>
<rect x="653.41" y="271.9" width="9.79" height="14.2" fill="#00a5ff"/>
<rect x="653.41" y="285.1" width="9.79" height="14.2" fill="#0a78ff"/>
<rect x="653.41" y="298.3" width="9.79" height="14.2" fill="#00f2a8"/>
<rect x="653.41" y="311.5" width="9.79" height="14.2" fill="#0a78ff"/>
<rect x="653.41" y="324.7" width="9.79" height="14.2" fill="#00a5ff"/>
<rect x="653.41" y="337.9" width="9.79" height="14.2" fill="#00d2f0"/>
<rect x="653.41" y="351.1" width="9.79" height="66" fill="#00a5ff"/>
<rect x="662.2" y="179.5" width="9.79" height="237.6" fill="#2000c8"/>
<rect x="670.99" y="179.5" width="9.79" height="237.6" fill="#2000c8"/>
<rect x="679.77" y="179.5" width="9.79" height="133" fill="#00a5ff"/>
<rect x="679.77" y="311.5" width="9.79" height="14.2" fill="#00d2f0"/>
<rect x="679.77" y="324.7" width="9.79" height="92.4" fill="#00a5ff"/>
<rect x="688.56" y="179.5" width="9.79" height="14.2" fill="#2000c8"/>
<rect x="688.56" y="192.7" width="9.79" height="27.4" fill="#000000"/>
<rect x="688.56" y="219.1" width="9.79" height="14.2" fill="#2000c8"/>
<rect x="688.56" y="232.3" width="9.79" height="14.2" fill="#000000"/>
<rect x="688.56" y="245.5" width="9.79" height="53.8" fill="#2000c8"/>
<rect x="688.56" y="298.3" width="9.79" height="14.2" fill="#000000"/>
<rect x="688.56" y="311.5" width="9.79" height="40.6" fill="#2000c8"/>
<rect x="688.56" y="351.1" width="9.79" height="66" fill="#000000"/>
<rect x="697.35" y="179.5" width="9.79" height="67" fill="#2000c8"/>
<rect x="697.35" y="245.5" width="9.79" height="14.2" fill="#00a5ff"/>
<rect x="697.35" y="258.7" width="9.79" height="27.4" fill="#0a78ff"/>
<rect x="697.35" y="285.1" width="9.79" height="14.2" fill="#00d2f0"/>
<rect x="697.35" y="298.3" width="9.79" height="14.2" fill="#2000c8"/>
<rect x="697.35" y="311.5" width="9.79" height="27.4" fill="#00a5ff"/>
<rect x="697.35" y="337.9" width="9.79" height="14.2" fill="#0a55f0"/>
<rect x="697.35" y="351.1" width="9.79" height="27.4" fill="#2000c8"/>
<rect x="697.35" y="377.5" width="9.79" height="14.2" fill="#00a5ff"/>
<rect x="697.35" y="390.7" width="9.79" height="14.2" fill="#0a78ff"/>
<rect x="697.35" y="403.9" width="9.79" height="13.2" fill="#2000c8"/>
<rect x="706.14" y="179.5" width="9.79" height="67" fill="#2000c8"/>
<rect x="706.14" y="245.5" width="9.79" height="14.2" fill="#ff0000"/>
<rect x="706.14" y="258.7" width="9.79" height="14.2" fill="#00f2a8"/>
<rect x="706.14" y="271.9" width="9.79" height="14.2" fill="#b4dc00"/>
<rect x="706.14" y="285.1" width="9.79" height="14.2" fill="#00f2a8"/>
<rect x="706.14" y="298.3" width="9.79" height="14.2" fill="#ff0000"/>
<rect x="706.14" y="311.5" width="9.79" height="14.2" fill="#00f2a8"/>
<rect x="706.14" y="324.7" width="9.79" height="14.2" fill="#e6d200"/>
<rect x="706.14" y="337.9" width="9.79" height="14.2" fill="#b4dc00"/>
<rect x="706.14" y="351.1" width="9.79" height="14.2" fill="#00f2a8"/>
<rect x="706.14" y="364.3" width="9.79" height="14.2" fill="#0a78ff"/>
<rect x="706.14" y="377.5" width="9.79" height="14.2" fill="#00a5ff"/>
<rect x="706.14" y="390.7" width="9.79" height="14.2" fill="#2000c8"/>
<rect x="706.14" y="403.9" width="9.79" height="13.2" fill="#00a5ff"/>
<rect x="714.93" y="179.5" width="9.79" height="14.2" fill="#0a78ff"/>
<rect x="714.93" y="192.7" width="9.79" height="14.2" fill="#00d2f0"/>
<rect x="714.93" y="205.9" width="9.79" height="14.2" fill="#00f2a8"/>
<rect x="714.93" y="219.1" width="9.79" height="14.2" fill="#00a5ff"/>
<rect x="714.93" y="232.3" width="9.79" height="14.2" fill="#0a78ff"/>
<rect x="714.93" y="245.5" width="9.79" height="14.2" fill="#00f2a8"/>
<rect x="714.93" y="258.7" width="9.79" height="14.2" fill="#b4dc00"/>
<rect x="714.93" y="271.9" width="9.79" height="14.2" fill="#00f2a8"/>
<rect x="714.93" y="285.1" width="9.79" height="14.2" fill="#00a5ff"/>
<rect x="714.93" y="298.3" width="9.79" height="14.2" fill="#e6d200"/>
<rect x="714.93" y="311.5" width="9.79" height="14.2" fill="#00f2a8"/>
<rect x="714.93" y="324.7" width="9.79" height="27.4" fill="#10e810"/>
<rect x="714.93" y="351.1" width="9.79" height="14.2" fill="#00d2f0"/>
<rect x="714.93" y="364.3" width="9.79" height="14.2" fill="#00a5ff"/>
<rect x="714.93" y="377.5" width="9.79" height="27.4" fill="#00d2f0"/>
<rect x="714.93" y="403.9" width="9.79" height="13.2" fill="#00a5ff"/>
<rect x="723.72" y="179.5" width="9.79" height="14.2" fill="#2000c8"/>
<rect x="723.72" y="192.7" width="9.79" height="27.4" fill="#0a55f0"/>
<rect x="723.72" y="219.1" width="9.79" height="40.6" fill="#2000c8"/>
<rect x="723.72" y="258.7" width="9.79" height="27.4" fill="#00a5ff"/>
<rect x="723.72" y="285.1" width="9.79" height="14.2" fill="#0a78ff"/>
<rect x="723.72" y="298.3" width="9.79" height="14.2" fill="#00a5ff"/>
<rect x="723.72" y="311.5" width="9.79" height="14.2" fill="#0a78ff"/>
<rect x="723.72" y="324.7" width="9.79" height="14.2" fill="#0a55f0"/>
<rect x="723.72" y="337.9" width="9.79" height="14.2" fill="#00a5ff"/>
<rect x="723.72" y="351.1" width="9.79" height="27.4" fill="#0a78ff"/>
<rect x="723.72" y="377.5" width="9.79" height="14.2" fill="#0a55f0"/>
<rect x="723.72" y="390.7" width="9.79" height="26.4" fill="#0a78ff"/>
<rect x="732.51" y="179.5" width="9.79" height="67" fill="#2000c8"/>
<rect x="732.51" y="245.5" width="9.79" height="27.4" fill="#0a55f0"/>
<rect x="732.51" y="271.9" width="9.79" height="14.2" fill="#0a78ff"/>
<rect x="732.51" y="285.1" width="9.79" height="27.4" fill="#2000c8"/>
<rect x="732.51" y="311.5" width="9.79" height="14.2" fill="#0a78ff"/>
<rect x="732.51" y="324.7" width="9.79" height="14.2" fill="#2000c8"/>
<rect x="732.51" y="337.9" width="9.79" height="14.2" fill="#00a5ff"/>
<rect x="732.51" y="351.1" width="9.79" height="27.4" fill="#2000c8"/>
<rect x="732.51" y="377.5" width="9.79" height="14.2" fill="#0a55f0"/>
<rect x="732.51" y="390.7" width="9.79" height="26.4" fill="#2000c8"/>
<rect x="741.3" y="179.5" width="9.79" height="67" fill="#2000c8"/>
<rect x="741.3" y="245.5" width="9.79" height="14.2" fill="#00a5ff"/>
<rect x="741.3" y="258.7" width="9.79" height="14.2" fill="#0a78ff"/>
<rect x="741.3" y="271.9" width="9.79" height="53.8" fill="#00a5ff"/>
<rect x="741.3" y="324.7" width="9.79" height="14.2" fill="#0a78ff"/>
<rect x="741.3" y="337.9" width="9.79" height="14.2" fill="#00a5ff"/>
<rect x="741.3" y="351.1" width="9.79" height="14.2" fill="#2000c8"/>
<rect x="741.3" y="364.3" width="9.79" height="14.2" fill="#00f2a8"/>
<rect x="741.3" y="377.5" width="9.79" height="39.6" fill="#2000c8"/>
<rect x="750.09" y="179.5" width="9.79" height="14.2" fill="#00f2a8"/>
<rect x="750.09" y="192.7" width="9.79" height="14.2" fill="#e6d200"/>
<rect x="750.09" y="205.9" width="9.79" height="14.2" fill="#10e810"/>
<rect x="750.09" y="219.1" width="9.79" height="27.4" fill="#00d2f0"/>
<rect x="750.09" y="245.5" width="9.79" height="171.6" fill="#ff0000"/>
<rect x="758.88" y="179.5" width="9.79" height="14.2" fill="#2000c8"/>
<rect x="758.88" y="192.7" width="9.79" height="14.2" fill="#0a78ff"/>
<rect x="758.88" y="205.9" width="9.79" height="27.4" fill="#2000c8"/>
<rect x="758.88" y="232.3" width="9.79" height="14.2" fill="#0a55f0"/>
<rect x="758.88" y="245.5" width="9.79" height="14.2" fill="#00d2f0"/>
<rect x="758.88" y="258.7" width="9.79" height="14.2" fill="#0a78ff"/>
<rect x="758.88" y="271.9" width="9.79" height="27.4" fill="#00a5ff"/>
<rect x="758.88" y="298.3" width="9.79" height="14.2" fill="#0a78ff"/>
<rect x="758.88" y="311.5" width="9.79" height="105.6" fill="#00a5ff"/>
<rect x="767.67" y="179.5" width="9.79" height="14.2" fill="#00f2a8"/>
<rect x="767.67" y="192.7" width="9.79" height="14.2" fill="#b4dc00"/>
<rect x="767.67" y="205.9" width="9.79" height="14.2" fill="#10e810"/>
<rect x="767.67" y="219.1" width="9.79" height="14.2" fill="#00d2f0"/>
<rect x="767.67" y="232.3" width="9.79" height="184.8" fill="#ff0000"/>
<rect x="776.46" y="179.5" width="9.79" height="67" fill="#2000c8"/>
<rect x="776.46" y="245.5" width="9.79" height="14.2" fill="#00d2f0"/>
<rect x="776.46" y="258.7" width="9.79" height="14.2" fill="#00a5ff"/>
<rect x="776.46" y="271.9" width="9.79" height="14.2" fill="#00d2f0"/>
<rect x="776.46" y="285.1" width="9.79" height="14.2" fill="#00a5ff"/>
<rect x="776.46" y="298.3" width="9.79" height="14.2" fill="#00d2f0"/>
<rect x="776.46" y="311.5" width="9.79" height="27.4" fill="#00a5ff"/>
<rect x="776.46" y="337.9" width="9.79" height="14.2" fill="#00f2a8"/>
<rect x="776.46" y="351.1" width="9.79" height="14.2" fill="#00a5ff"/>
<rect x="776.46" y="364.3" width="9.79" height="14.2" fill="#00f2a8"/>
<rect x="776.46" y="377.5" width="9.79" height="14.2" fill="#00a5ff"/>
<rect x="776.46" y="390.7" width="9.79" height="14.2" fill="#00d2f0"/>
<rect x="776.46" y="403.9" width="9.79" height="13.2" fill="#00a5ff"/>
<rect x="785.25" y="179.5" width="9.79" height="14.2" fill="#2000c8"/>
<rect x="785.25" y="192.7" width="9.79" height="14.2" fill="#00a5ff"/>
<rect x="785.25" y="205.9" width="9.79" height="14.2" fill="#0a78ff"/>
<rect x="785.25" y="219.1" width="9.79" height="14.2" fill="#2000c8"/>
<rect x="785.25" y="232.3" width="9.79" height="14.2" fill="#0a78ff"/>
<rect x="785.25" y="245.5" width="9.79" height="14.2" fill="#ff8c00"/>
<rect x="785.25" y="258.7" width="9.79" height="14.2" fill="#00f2a8"/>
<rect x="785.25" y="271.9" width="9.79" height="14.2" fill="#b4dc00"/>
<rect x="785.25" y="285.1" width="9.79" height="27.4" fill="#00f2a8"/>
<rect x="785.25" y="311.5" width="9.79" height="27.4" fill="#b4dc00"/>
<rect x="785.25" y="337.9" width="9.79" height="14.2" fill="#ffb400"/>
<rect x="785.25" y="351.1" width="9.79" height="14.2" fill="#b4dc00"/>
<rect x="785.25" y="364.3" width="9.79" height="14.2" fill="#ff4600"/>
<rect x="785.25" y="377.5" width="9.79" height="14.2" fill="#ff8c00"/>
<rect x="785.25" y="390.7" width="9.79" height="14.2" fill="#00f2a8"/>
<rect x="785.25" y="403.9" width="9.79" height="13.2" fill="#10e810"/>
<rect x="794.04" y="179.5" width="9.79" height="67" fill="#2000c8"/>
<rect x="794.04" y="245.5" width="9.79" height="14.2" fill="#00a5ff"/>
<rect x="794.04" y="258.7" width="9.79" height="27.4" fill="#00d2f0"/>
<rect x="794.04" y="285.1" width="9.79" height="14.2" fill="#00a5ff"/>
<rect x="794.04" y="298.3" width="9.79" height="14.2" fill="#00d2f0"/>
<rect x="794.04" y="311.5" width="9.79" height="14.2" fill="#0a78ff"/>
<rect x="794.04" y="324.7" width="9.79" height="14.2" fill="#00d2f0"/>
<rect x="794.04" y="337.9" width="9.79" height="14.2" fill="#00a5ff"/>
<rect x="794.04" y="351.1" width="9.79" height="14.2" fill="#0a78ff"/>
<rect x="794.04" y="364.3" width="9.79" height="27.4" fill="#00a5ff"/>
<rect x="794.04" y="390.7" width="9.79" height="14.2" fill="#0a78ff"/>
<rect x="794.04" y="403.9" width="9.79" height="13.2" fill="#0a55f0"/>
<rect x="802.83" y="179.5" width="9.79" height="14.2" fill="#0a78ff"/>
<rect x="802.83" y="192.7" width="9.79" height="27.4" fill="#00d2f0"/>
<rect x="802.83" y="219.1" width="9.79" height="27.4" fill="#0a78ff"/>
<rect x="802.83" y="245.5" width="9.79" height="14.2" fill="#ff4600"/>
<rect x="802.83" y="258.7" width="9.79" height="14.2" fill="#ff0000"/>
<rect x="802.83" y="271.9" width="9.79" height="14.2" fill="#00f2a8"/>
<rect x="802.83" y="285.1" width="9.79" height="14.2" fill="#ff0000"/>
<rect x="802.83" y="298.3" width="9.79" height="14.2" fill="#00f2a8"/>
<rect x="802.83" y="311.5" width="9.79" height="14.2" fill="#b4dc00"/>
<rect x="802.83" y="324.7" width="9.79" height="14.2" fill="#ff8c00"/>
<rect x="802.83" y="337.9" width="9.79" height="14.2" fill="#ffb400"/>
<rect x="802.83" y="351.1" width="9.79" height="14.2" fill="#10e810"/>
<rect x="802.83" y="364.3" width="9.79" height="14.2" fill="#ffb400"/>
<rect x="802.83" y="377.5" width="9.79" height="14.2" fill="#ff4600"/>
<rect x="802.83" y="390.7" width="9.79" height="14.2" fill="#10e810"/>
<rect x="802.83" y="403.9" width="9.79" height="13.2" fill="#e6d200"/>
<rect x="811.62" y="179.5" width="9.79" height="14.2" fill="#00d2f0"/>
<rect x="811.62" y="192.7" width="9.79" height="14.2" fill="#10e810"/>
<rect x="811.62" y="205.9" width="9.79" height="14.2" fill="#00d2f0"/>
<rect x="811.62" y="219.1" width="9.79" height="27.4" fill="#00f2a8"/>
<rect x="811.62" y="245.5" width="9.79" height="14.2" fill="#ff0000"/>
<rect x="811.62" y="258.7" width="9.79" height="14.2" fill="#ff4600"/>
<rect x="811.62" y="271.9" width="9.79" height="14.2" fill="#ff8c00"/>
<rect x="811.62" y="285.1" width="9.79" height="27.4" fill="#ff0000"/>
<rect x="811.62" y="311.5" width="9.79" height="14.2" fill="#ff8c00"/>
<rect x="811.62" y="324.7" width="9.79" height="14.2" fill="#ff0000"/>
<rect x="811.62" y="337.9" width="9.79" height="14.2" fill="#ff8c00"/>
<rect x="811.62" y="351.1" width="9.79" height="14.2" fill="#b4dc00"/>
<rect x="811.62" y="364.3" width="9.79" height="14.2" fill="#ffb400"/>
<rect x="811.62" y="377.5" width="9.79" height="14.2" fill="#ff4600"/>
<rect x="811.62" y="390.7" width="9.79" height="14.2" fill="#b4dc00"/>
<rect x="811.62" y="403.9" width="9.79" height="13.2" fill="#ffb400"/>
<rect x="820.41" y="179.5" width="9.79" height="67" fill="#2000c8"/>
<rect x="820.41" y="245.5" width="9.79" height="27.4" fill="#ff0000"/>
<rect x="820.41" y="271.9" width="9.79" height="14.2" fill="#ffb400"/>
<rect x="820.41" y="285.1" width="9.79" height="27.4" fill="#ff0000"/>
<rect x="820.41" y="311.5" width="9.79" height="14.2" fill="#ffb400"/>
<rect x="820.41" y="324.7" width="9.79" height="27.4" fill="#ff0000"/>
<rect x="820.41" y="351.1" width="9.79" height="27.4" fill="#e6d200"/>
<rect x="820.41" y="377.5" width="9.79" height="14.2" fill="#10e810"/>
<rect x="820.41" y="390.7" width="9.79" height="14.2" fill="#b4dc00"/>
<rect x="820.41" y="403.9" width="9.79" height="13.2" fill="#e6d200"/>
<rect x="829.2" y="179.5" width="9.79" height="14.2" fill="#00d2f0"/>
<rect x="829.2" y="192.7" width="9.79" height="27.4" fill="#0a78ff"/>
<rect x="829.2" y="219.1" width="9.79" height="14.2" fill="#2000c8"/>
<rect x="829.2" y="232.3" width="9.79" height="14.2" fill="#00d2f0"/>
<rect x="829.2" y="245.5" width="9.79" height="171.6" fill="#ff0000"/>
<rect x="837.99" y="179.5" width="9.79" height="14.2" fill="#2000c8"/>
<rect x="837.99" y="192.7" width="9.79" height="14.2" fill="#0a78ff"/>
<rect x="837.99" y="205.9" width="9.79" height="14.2" fill="#0a55f0"/>
<rect x="837.99" y="219.1" width="9.79" height="14.2" fill="#0a78ff"/>
<rect x="837.99" y="232.3" width="9.79" height="27.4" fill="#2000c8"/>
<rect x="837.99" y="258.7" width="9.79" height="14.2" fill="#0a55f0"/>
<rect x="837.99" y="271.9" width="9.79" height="40.6" fill="#00a5ff"/>
<rect x="837.99" y="311.5" width="9.79" height="14.2" fill="#2000c8"/>
<rect x="837.99" y="324.7" width="9.79" height="14.2" fill="#00a5ff"/>
<rect x="837.99" y="337.9" width="9.79" height="40.6" fill="#0a78ff"/>
<rect x="837.99" y="377.5" width="9.79" height="14.2" fill="#0a55f0"/>
<rect x="837.99" y="390.7" width="9.79" height="14.2" fill="#00a5ff"/>
<rect x="837.99" y="403.9" width="9.79" height="13.2" fill="#2000c8"/>
<rect x="846.78" y="179.5" width="9.79" height="14.2" fill="#00f2a8"/>
<rect x="846.78" y="192.7" width="9.79" height="27.4" fill="#ff0000"/>
<rect x="846.78" y="219.1" width="9.79" height="14.2" fill="#10e810"/>
<rect x="846.78" y="232.3" width="9.79" height="27.4" fill="#00f2a8"/>
<rect x="846.78" y="258.7" width="9.79" height="14.2" fill="#10e810"/>
<rect x="846.78" y="271.9" width="9.79" height="14.2" fill="#b4dc00"/>
<rect x="846.78" y="285.1" width="9.79" height="14.2" fill="#00f2a8"/>
<rect x="846.78" y="298.3" width="9.79" height="27.4" fill="#ff0000"/>
<rect x="846.78" y="324.7" width="9.79" height="14.2" fill="#00f2a8"/>
<rect x="846.78" y="337.9" width="9.79" height="27.4" fill="#00a5ff"/>
<rect x="846.78" y="364.3" width="9.79" height="14.2" fill="#00f2a8"/>
<rect x="846.78" y="377.5" width="9.79" height="39.6" fill="#00a5ff"/>
<rect x="855.57" y="179.5" width="9.79" height="14.2" fill="#ff0000"/>
<rect x="855.57" y="192.7" width="9.79" height="14.2" fill="#ff4600"/>
<rect x="855.57" y="205.9" width="9.79" height="14.2" fill="#ffb400"/>
<rect x="855.57" y="219.1" width="9.79" height="14.2" fill="#b4dc00"/>
<rect x="855.57" y="232.3" width="9.79" height="27.4" fill="#10e810"/>
<rect x="855.57" y="258.7" width="9.79" height="14.2" fill="#00f2a8"/>
<rect x="855.57" y="271.9" width="9.79" height="14.2" fill="#ffb400"/>
<rect x="855.57" y="285.1" width="9.79" height="14.2" fill="#ff8c00"/>
<rect x="855.57" y="298.3" width="9.79" height="14.2" fill="#10e810"/>
<rect x="855.57" y="311.5" width="9.79" height="14.2" fill="#00f2a8"/>
<rect x="855.57" y="324.7" width="9.79" height="27.4" fill="#b4dc00"/>
<rect x="855.57" y="351.1" width="9.79" height="14.2" fill="#00d2f0"/>
<rect x="855.57" y="364.3" width="9.79" height="14.2" fill="#0a78ff"/>
<rect x="855.57" y="377.5" width="9.79" height="27.4" fill="#00a5ff"/>
<rect x="855.57" y="403.9" width="9.79" height="13.2" fill="#0a78ff"/>
<rect x="864.36" y="179.5" width="9.79" height="14.2" fill="#0a78ff"/>
<rect x="864.36" y="192.7" width="9.79" height="53.8" fill="#00a5ff"/>
<rect x="864.36" y="245.5" width="9.79" height="14.2" fill="#0a55f0"/>
<rect x="864.36" y="258.7" width="9.79" height="27.4" fill="#0a78ff"/>
<rect x="864.36" y="285.1" width="9.79" height="14.2" fill="#2000c8"/>
<rect x="864.36" y="298.3" width="9.79" height="53.8" fill="#0a78ff"/>
<rect x="864.36" y="351.1" width="9.79" height="14.2" fill="#00a5ff"/>
<rect x="864.36" y="364.3" width="9.79" height="14.2" fill="#0a78ff"/>
<rect x="864.36" y="377.5" width="9.79" height="39.6" fill="#00a5ff"/>
<rect x="873.15" y="179.5" width="9.79" height="27.4" fill="#00a5ff"/>
<rect x="873.15" y="205.9" width="9.79" height="14.2" fill="#0a78ff"/>
<rect x="873.15" y="219.1" width="9.79" height="14.2" fill="#00a5ff"/>
<rect x="873.15" y="232.3" width="9.79" height="14.2" fill="#00d2f0"/>
<rect x="873.15" y="245.5" width="9.79" height="106.6" fill="#2000c8"/>
<rect x="873.15" y="351.1" width="9.79" height="14.2" fill="#00a5ff"/>
<rect x="873.15" y="364.3" width="9.79" height="14.2" fill="#0a78ff"/>
<rect x="873.15" y="377.5" width="9.79" height="14.2" fill="#00a5ff"/>
<rect x="873.15" y="390.7" width="9.79" height="14.2" fill="#2000c8"/>
<rect x="873.15" y="403.9" width="9.79" height="13.2" fill="#0a78ff"/>
<rect x="881.94" y="179.5" width="9.79" height="237.6" fill="#ff0000"/>
<rect x="890.73" y="179.5" width="9.79" height="14.2" fill="#00d2f0"/>
<rect x="890.73" y="192.7" width="9.79" height="14.2" fill="#0a78ff"/>
<rect x="890.73" y="205.9" width="9.79" height="40.6" fill="#00a5ff"/>
<rect x="890.73" y="245.5" width="9.79" height="14.2" fill="#0a78ff"/>
<rect x="890.73" y="258.7" width="9.79" height="14.2" fill="#00a5ff"/>
<rect x="890.73" y="271.9" width="9.79" height="14.2" fill="#0a78ff"/>
<rect x="890.73" y="285.1" width="9.79" height="27.4" fill="#00a5ff"/>
<rect x="890.73" y="311.5" width="9.79" height="14.2" fill="#0a78ff"/>
<rect x="890.73" y="324.7" width="9.79" height="14.2" fill="#00a5ff"/>
<rect x="890.73" y="337.9" width="9.79" height="40.6" fill="#0a78ff"/>
<rect x="890.73" y="377.5" width="9.79" height="14.2" fill="#00d2f0"/>
<rect x="890.73" y="390.7" width="9.79" height="14.2" fill="#00a5ff"/>
<rect x="890.73" y="403.9" width="9.79" height="13.2" fill="#0a55f0"/>
<rect x="899.51" y="179.5" width="9.79" height="14.2" fill="#ff8c00"/>
<rect x="899.51" y="192.7" width="9.79" height="14.2" fill="#ffb400"/>
<rect x="899.51" y="205.9" width="9.79" height="14.2" fill="#10e810"/>
<rect x="899.51" y="219.1" width="9.79" height="14.2" fill="#b4dc00"/>
<rect x="899.51" y="232.3" width="9.79" height="14.2" fill="#e6d200"/>
<rect x="899.51" y="245.5" width="9.79" height="14.2" fill="#00a5ff"/>
<rect x="899.51" y="258.7" width="9.79" height="14.2" fill="#10e810"/>
<rect x="899.51" y="271.9" width="9.79" height="14.2" fill="#b4dc00"/>
<rect x="899.51" y="285.1" width="9.79" height="14.2" fill="#00f2a8"/>
<rect x="899.51" y="298.3" width="9.79" height="14.2" fill="#10e810"/>
<rect x="899.51" y="311.5" width="9.79" height="14.2" fill="#b4dc00"/>
<rect x="899.51" y="324.7" width="9.79" height="27.4" fill="#10e810"/>
<rect x="899.51" y="351.1" width="9.79" height="14.2" fill="#00d2f0"/>
<rect x="899.51" y="364.3" width="9.79" height="14.2" fill="#b4dc00"/>
<rect x="899.51" y="377.5" width="9.79" height="14.2" fill="#00f2a8"/>
<rect x="899.51" y="390.7" width="9.79" height="14.2" fill="#10e810"/>
<rect x="899.51" y="403.9" width="9.79" height="13.2" fill="#00f2a8"/>
<rect x="908.3" y="179.5" width="9.79" height="14.2" fill="#00a5ff"/>
<rect x="908.3" y="192.7" width="9.79" height="14.2" fill="#00d2f0"/>
<rect x="908.3" y="205.9" width="9.79" height="14.2" fill="#00a5ff"/>
<rect x="908.3" y="219.1" width="9.79" height="14.2" fill="#0a78ff"/>
<rect x="908.3" y="232.3" width="9.79" height="14.2" fill="#00a5ff"/>
<rect x="908.3" y="245.5" width="9.79" height="14.2" fill="#0a78ff"/>
<rect x="908.3" y="258.7" width="9.79" height="27.4" fill="#00a5ff"/>
<rect x="908.3" y="285.1" width="9.79" height="27.4" fill="#0a78ff"/>
<rect x="908.3" y="311.5" width="9.79" height="14.2" fill="#2000c8"/>
<rect x="908.3" y="324.7" width="9.79" height="14.2" fill="#0a55f0"/>
<rect x="908.3" y="337.9" width="9.79" height="14.2" fill="#0a78ff"/>
<rect x="908.3" y="351.1" width="9.79" height="27.4" fill="#0a55f0"/>
<rect x="908.3" y="377.5" width="9.79" height="14.2" fill="#0a78ff"/>
<rect x="908.3" y="390.7" width="9.79" height="26.4" fill="#00a5ff"/>
<rect x="917.09" y="179.5" width="9.79" height="67" fill="#ff0000"/>
<rect x="917.09" y="245.5" width="9.79" height="14.2" fill="#0a55f0"/>
<rect x="917.09" y="258.7" width="9.79" height="27.4" fill="#00d2f0"/>
<rect x="917.09" y="285.1" width="9.79" height="14.2" fill="#0a55f0"/>
<rect x="917.09" y="298.3" width="9.79" height="27.4" fill="#00a5ff"/>
<rect x="917.09" y="324.7" width="9.79" height="14.2" fill="#2000c8"/>
<rect x="917.09" y="337.9" width="9.79" height="14.2" fill="#00a5ff"/>
<rect x="917.09" y="351.1" width="9.79" height="14.2" fill="#10e810"/>
<rect x="917.09" y="364.3" width="9.79" height="40.6" fill="#00f2a8"/>
<rect x="917.09" y="403.9" width="9.79" height="13.2" fill="#00d2f0"/>
<rect x="925.88" y="179.5" width="9.79" height="27.4" fill="#00f2a8"/>
<rect x="925.88" y="205.9" width="9.79" height="14.2" fill="#b4dc00"/>
<rect x="925.88" y="219.1" width="9.79" height="27.4" fill="#00f2a8"/>
<rect x="925.88" y="245.5" width="9.79" height="27.4" fill="#00a5ff"/>
<rect x="925.88" y="271.9" width="9.79" height="27.4" fill="#00d2f0"/>
<rect x="925.88" y="298.3" width="9.79" height="14.2" fill="#00a5ff"/>
<rect x="925.88" y="311.5" width="9.79" height="27.4" fill="#00d2f0"/>
<rect x="925.88" y="337.9" width="9.79" height="27.4" fill="#00a5ff"/>
<rect x="925.88" y="364.3" width="9.79" height="14.2" fill="#0a78ff"/>
<rect x="925.88" y="377.5" width="9.79" height="39.6" fill="#00a5ff"/>
<rect x="934.67" y="179.5" width="9.79" height="237.6" fill="#ff0000"/>
<rect x="943.46" y="179.5" width="9.79" height="27.4" fill="#ff8c00"/>
<rect x="943.46" y="205.9" width="9.79" height="14.2" fill="#10e810"/>
<rect x="943.46" y="219.1" width="9.79" height="14.2" fill="#b4dc00"/>
<rect x="943.46" y="232.3" width="9.79" height="14.2" fill="#ff8c00"/>
<rect x="943.46" y="245.5" width="9.79" height="14.2" fill="#0a55f0"/>
<rect x="943.46" y="258.7" width="9.79" height="14.2" fill="#0a78ff"/>
<rect x="943.46" y="271.9" width="9.79" height="27.4" fill="#00a5ff"/>
<rect x="943.46" y="298.3" width="9.79" height="14.2" fill="#2000c8"/>
<rect x="943.46" y="311.5" width="9.79" height="14.2" fill="#0a55f0"/>
<rect x="943.46" y="324.7" width="9.79" height="14.2" fill="#00a5ff"/>
<rect x="943.46" y="337.9" width="9.79" height="14.2" fill="#2000c8"/>
<rect x="943.46" y="351.1" width="9.79" height="27.4" fill="#0a55f0"/>
<rect x="943.46" y="377.5" width="9.79" height="27.4" fill="#00a5ff"/>
<rect x="943.46" y="403.9" width="9.79" height="13.2" fill="#0a78ff"/>
<rect x="952.25" y="179.5" width="9.79" height="14.2" fill="#b4dc00"/>
<rect x="952.25" y="192.7" width="9.79" height="14.2" fill="#e6d200"/>
<rect x="952.25" y="205.9" width="9.79" height="14.2" fill="#ff4600"/>
<rect x="952.25" y="219.1" width="9.79" height="14.2" fill="#ff8c00"/>
<rect x="952.25" y="232.3" width="9.79" height="14.2" fill="#e6d200"/>
<rect x="952.25" y="245.5" width="9.79" height="14.2" fill="#00a5ff"/>
<rect x="952.25" y="258.7" width="9.79" height="14.2" fill="#0a55f0"/>
<rect x="952.25" y="271.9" width="9.79" height="14.2" fill="#00a5ff"/>
<rect x="952.25" y="285.1" width="9.79" height="14.2" fill="#0a78ff"/>
<rect x="952.25" y="298.3" width="9.79" height="27.4" fill="#2000c8"/>
<rect x="952.25" y="324.7" width="9.79" height="14.2" fill="#00a5ff"/>
<rect x="952.25" y="337.9" width="9.79" height="79.2" fill="#2000c8"/>
<rect x="961.04" y="179.5" width="9.79" height="67" fill="#ff0000"/>
<rect x="961.04" y="245.5" width="9.79" height="14.2" fill="#0a55f0"/>
<rect x="961.04" y="258.7" width="9.79" height="14.2" fill="#00f2a8"/>
<rect x="961.04" y="271.9" width="9.79" height="14.2" fill="#0a55f0"/>
<rect x="961.04" y="285.1" width="9.79" height="27.4" fill="#00d2f0"/>
<rect x="961.04" y="311.5" width="9.79" height="27.4" fill="#00a5ff"/>
<rect x="961.04" y="337.9" width="9.79" height="14.2" fill="#00d2f0"/>
<rect x="961.04" y="351.1" width="9.79" height="14.2" fill="#10e810"/>
<rect x="961.04" y="364.3" width="9.79" height="14.2" fill="#b4dc00"/>
<rect x="961.04" y="377.5" width="9.79" height="14.2" fill="#00f2a8"/>
<rect x="961.04" y="390.7" width="9.79" height="14.2" fill="#ff8c00"/>
<rect x="961.04" y="403.9" width="9.79" height="13.2" fill="#e6d200"/>
<rect x="969.83" y="179.5" width="9.79" height="67" fill="#ff0000"/>
<rect x="969.83" y="245.5" width="9.79" height="171.6" fill="#2000c8"/>
<rect x="978.62" y="179.5" width="9.79" height="14.2" fill="#00a5ff"/>
<rect x="978.62" y="192.7" width="9.79" height="27.4" fill="#0a78ff"/>
<rect x="978.62" y="219.1" width="9.79" height="198" fill="#2000c8"/>
<rect x="987.41" y="179.5" width="8.79" height="14.2" fill="#00d2f0"/>
<rect x="987.41" y="192.7" width="8.79" height="14.2" fill="#00f2a8"/>
<rect x="987.41" y="205.9" width="8.79" height="14.2" fill="#00a5ff"/>
<rect x="987.41" y="219.1" width="8.79" height="14.2" fill="#00d2f0"/>
<rect x="987.41" y="232.3" width="8.79" height="80.2" fill="#00a5ff"/>
<rect x="987.41" y="311.5" width="8.79" height="14.2" fill="#0a78ff"/>
<rect x="987.41" y="324.7" width="8.79" height="40.6" fill="#00a5ff"/>
<rect x="987.41" y="364.3" width="8.79" height="14.2" fill="#0a78ff"/>
<rect x="987.41" y="377.5" width="8.79" height="39.6" fill="#00a5ff"/>
<path d="M84.96 173.5L93.87 173.5M84.96 173.5L84.96 180.7M93.87 173.5L93.87 180.7M89.41 158.4L102.78 158.4M89.41 158.4L89.41 173.5M102.78 158.4L102.78 180.7M111.69 162.9L120.6 162.9M111.69 162.9L111.69 180.7M120.6 162.9L120.6 180.7M138.42 171.4L147.33 171.4M138.42 171.4L138.42 180.7M147.33 171.4L147.33 180.7M156.24 171.4L165.15 171.4M156.24 171.4L156.24 180.7M165.15 171.4L165.15 180.7M142.87 164.1L160.69 164.1M142.87 164.1L142.87 171.4M160.69 164.1L160.69 171.4M129.51 159L151.78 159M129.51 159L129.51 180.7M151.78 159L151.78 164.1M209.7 178.5L218.61 178.5M209.7 178.5L209.7 180.7M218.61 178.5L218.61 180.7M200.79 177.5L214.15 177.5M200.79 177.5L200.79 180.7M214.15 177.5L214.15 178.5M191.88 175.4L207.47 175.4M191.88 175.4L191.88 180.7M207.47 175.4L207.47 177.5M182.97 171.2L199.67 171.2M182.97 171.2L182.97 180.7M199.67 171.2L199.67 175.4M254.25 177.7L263.16 177.7M254.25 177.7L254.25 180.7M263.16 177.7L263.16 180.7M245.34 175.6L258.71 175.6M245.34 175.6L245.34 180.7M258.71 175.6L258.71 177.7M236.43 174.5L252.02 174.5M236.43 174.5L236.43 180.7M252.02 174.5L252.02 175.6M227.52 171.2L244.23 171.2M227.52 171.2L227.52 180.7M244.23 171.2L244.23 174.5M191.32 167.5L235.87 167.5M191.32 167.5L191.32 171.2M235.87 167.5L235.87 171.2M174.06 162.3L213.6 162.3M174.06 162.3L174.06 180.7M213.6 162.3L213.6 167.5M140.64 158.4L193.83 158.4M140.64 158.4L140.64 159M193.83 158.4L193.83 162.3M116.14 144.4L167.24 144.4M116.14 144.4L116.14 162.9M167.24 144.4L167.24 158.4M141.69 141.1L272.07 141.1M141.69 141.1L141.69 144.4M272.07 141.1L272.07 180.7M96.09 138.2L206.88 138.2M96.09 138.2L96.09 158.4M206.88 138.2L206.88 141.1M289.89 171.2L298.8 171.2M289.89 171.2L289.89 180.7M298.8 171.2L298.8 180.7M294.35 163.6L307.71 163.6M294.35 163.6L294.35 171.2M307.71 163.6L307.71 180.7M352.26 179L361.17 179M352.26 179L352.26 180.7M361.17 179L361.17 180.7M370.08 178.5L378.99 178.5M370.08 178.5L370.08 180.7M378.99 178.5L378.99 180.7M356.72 178.3L374.54 178.3M356.72 178.3L356.72 179M374.54 178.3L374.54 178.5M343.35 178L365.63 178M343.35 178L343.35 180.7M365.63 178L365.63 178.3M334.44 176.4L354.49 176.4M334.44 176.4L334.44 180.7M354.49 176.4L354.49 178M325.53 173.3L344.47 173.3M325.53 173.3L325.53 180.7M344.47 173.3L344.47 176.4M335 167.5L387.9 167.5M335 167.5L335 173.3M387.9 167.5L387.9 180.7M316.62 165.2L361.45 165.2M316.62 165.2L316.62 180.7M361.45 165.2L361.45 167.5M339.04 161.2L396.81 161.2M339.04 161.2L339.04 165.2M396.81 161.2L396.81 180.7M301.03 159L367.93 159M301.03 159L301.03 163.6M367.93 159L367.93 161.2M414.63 163.3L423.54 163.3M414.63 163.3L414.63 180.7M423.54 163.3L423.54 180.7M405.72 156.3L419.09 156.3M405.72 156.3L405.72 180.7M419.09 156.3L419.09 163.3M334.48 153.2L412.41 153.2M334.48 153.2L334.48 159M412.41 153.2L412.41 156.3M280.98 146L373.44 146M280.98 146L280.98 180.7M373.44 146L373.44 153.2M151.49 136.6L327.21 136.6M151.49 136.6L151.49 138.2M327.21 136.6L327.21 146M578.69 171.5L587.48 171.5M578.69 171.5L578.69 179.5M587.48 171.5L587.48 179.5M583.09 157.2L596.27 157.2M583.09 157.2L583.09 171.5M596.27 157.2L596.27 179.5M589.68 149.5L605.06 149.5M589.68 149.5L589.68 157.2M605.06 149.5L605.06 179.5M613.85 173.4L622.64 173.4M613.85 173.4L613.85 179.5M622.64 173.4L622.64 179.5M631.43 160.3L640.22 160.3M631.43 160.3L631.43 179.5M640.22 160.3L640.22 179.5M618.25 155.1L635.83 155.1M618.25 155.1L618.25 173.4M635.83 155.1L635.83 160.3M597.37 141.6L627.04 141.6M597.37 141.6L597.37 149.5M627.04 141.6L627.04 155.1M649.01 161.6L657.8 161.6M649.01 161.6L649.01 179.5M657.8 161.6L657.8 179.5M675.38 158.5L684.17 158.5M675.38 158.5L675.38 179.5M684.17 158.5L684.17 179.5M666.59 152.8L679.77 152.8M666.59 152.8L666.59 179.5M679.77 152.8L679.77 158.5M692.96 162.7L701.75 162.7M692.96 162.7L692.96 179.5M701.75 162.7L701.75 179.5M710.54 170.5L719.33 170.5M710.54 170.5L710.54 179.5M719.33 170.5L719.33 179.5M728.12 170.5L736.91 170.5M728.12 170.5L728.12 179.5M736.91 170.5L736.91 179.5M714.93 163.2L732.51 163.2M714.93 163.2L714.93 170.5M732.51 163.2L732.51 170.5M780.86 177.5L789.64 177.5M780.86 177.5L780.86 179.5M789.64 177.5L789.64 179.5M772.07 176.5L785.25 176.5M772.07 176.5L772.07 179.5M785.25 176.5L785.25 177.5M763.28 174.4L778.66 174.4M763.28 174.4L763.28 179.5M778.66 174.4L778.66 176.5M754.49 170.5L770.97 170.5M754.49 170.5L754.49 179.5M770.97 170.5L770.97 174.4M824.8 176.2L833.59 176.2M824.8 176.2L824.8 179.5M833.59 176.2L833.59 179.5M816.01 175L829.2 175M816.01 175L816.01 179.5M829.2 175L829.2 176.2M807.22 173.5L822.61 173.5M807.22 173.5L807.22 179.5M822.61 173.5L822.61 175M798.43 171L814.91 171M798.43 171L798.43 179.5M814.91 171L814.91 173.5M762.73 166.8L806.67 166.8M762.73 166.8L762.73 170.5M806.67 166.8L806.67 171M745.7 160.3L784.7 160.3M745.7 160.3L745.7 179.5M784.7 160.3L784.7 166.8M723.72 158.5L765.2 158.5M723.72 158.5L723.72 163.2M765.2 158.5L765.2 160.3M697.35 154L744.46 154M697.35 154L697.35 162.7M744.46 154L744.46 158.5M673.18 144.5L720.91 144.5M673.18 144.5L673.18 152.8M720.91 144.5L720.91 154M653.41 143.4L697.05 143.4M653.41 143.4L653.41 161.6M697.05 143.4L697.05 144.5M612.21 137.7L675.23 137.7M612.21 137.7L612.21 141.6M675.23 137.7L675.23 143.4M851.17 162.7L859.96 162.7M851.17 162.7L851.17 179.5M859.96 162.7L859.96 179.5M868.75 171L877.54 171M868.75 171L868.75 179.5M877.54 171L877.54 179.5M873.15 162.7L886.33 162.7M873.15 162.7L873.15 171M886.33 162.7L886.33 179.5M879.74 158.5L895.12 158.5M879.74 158.5L879.74 162.7M895.12 158.5L895.12 179.5M965.44 177.5L974.23 177.5M965.44 177.5L965.44 179.5M974.23 177.5L974.23 179.5M956.65 177L969.83 177M956.65 177L956.65 179.5M969.83 177L969.83 177.5M947.86 176L963.24 176M947.86 176L947.86 179.5M963.24 176L963.24 177M939.07 175.1L955.55 175.1M939.07 175.1L939.07 179.5M955.55 175.1L955.55 176M930.28 174L947.31 174M930.28 174L930.28 179.5M947.31 174L947.31 175.1M921.49 172.5L938.79 172.5M921.49 172.5L921.49 179.5M938.79 172.5L938.79 174M930.14 167.3L983.02 167.3M930.14 167.3L930.14 172.5M983.02 167.3L983.02 179.5M912.7 164.7L956.58 164.7M912.7 164.7L912.7 179.5M956.58 164.7L956.58 167.3M934.64 161.6L991.81 161.6M934.64 161.6L934.64 164.7M991.81 161.6L991.81 179.5M903.91 156.4L963.22 156.4M903.91 156.4L903.91 179.5M963.22 156.4L963.22 161.6M887.43 154L933.57 154M887.43 154L887.43 158.5M933.57 154L933.57 156.4M855.57 148.4L910.5 148.4M855.57 148.4L855.57 162.7M910.5 148.4L910.5 154M842.38 140.1L883.03 140.1M842.38 140.1L842.38 179.5M883.03 140.1L883.03 148.4M643.72 136.2L862.71 136.2M643.72 136.2L643.72 137.7M862.71 136.2L862.71 140.1M68.8 187.4L80.5 187.4M68.8 187.4L68.8 215.6M68.8 215.6L77 215.6M54.7 201.4L68.8 201.4M54.7 201.4L54.7 295.8M54.7 295.8L77 295.8M35.4 249.2L54.7 249.2M35.4 249.2L35.4 374.2M35.4 374.2L78.5 374.2M77 200.7L77 230.8M77 200.7L80.5 200.7M78.5 220.7L78.5 240.8M78.5 240.8L80.5 240.8M79.3 214.1L79.3 227.4M77 260.7L77 330M77 260.7L80.5 260.7M77 330L80.5 330M78.6 294L78.6 320.8M78.5 354L78.5 400M78.5 354L80.5 354M78.5 400L80.5 400M79.4 387.5L79.4 414.2M558.2 186.1L574.3 186.1M558.2 186.1L558.2 214.8M558.2 214.8L573 214.8M546.5 200.4L558.2 200.4M546.5 200.4L546.5 292.7M546.5 292.7L570.4 292.7M529.5 243.9L546.5 243.9M529.5 243.9L529.5 371.2M529.5 371.2L570.4 371.2M573 199.3L573 230M571.5 230L571.5 250M570.4 262L570.4 325M572.5 280L572.5 305M570.4 350L570.4 400M572.5 385L572.5 410M35.4 178.3L80.2 178.3M35.4 176.3L35.4 178.3M57.7 176.3L57.7 178.3M80.2 176.3L80.2 178.3M529.8 177.6L573.3 177.6M529.8 175.6L529.8 177.6M552 175.6L552 177.6M573.3 175.6L573.3 177.6M430.8 135.6L430.8 180.3M430.8 135.6L432.8 135.6M430.8 158.3L432.8 158.3M430.8 180.3L432.8 180.3M998 136.5L998 177.1M998 136.5L1000 136.5M998 156.8L1000 156.8M998 177.1L1000 177.1" stroke="#acacb4" stroke-width="1.0" fill="none"/>
<g font-family="Liberation Sans, sans-serif" fill="#111111" stroke="#111111" stroke-width="0.35" font-size="19.2">
<text transform="translate(181.8 455) scale(0.965 1)">Scent Chemicals</text>
<text transform="translate(682.5 454.5) scale(0.97 1)">Flavor Chemicals</text>
</g>
<ellipse cx="255.7" cy="94.1" rx="230.4" ry="92.5" fill="none" stroke="#ff0000" stroke-width="1.3"/>
<ellipse cx="778.85" cy="94" rx="230.7" ry="92.5" fill="none" stroke="#1eb450" stroke-width="1.3"/>
</g>
</svg>
</div></body></html>
